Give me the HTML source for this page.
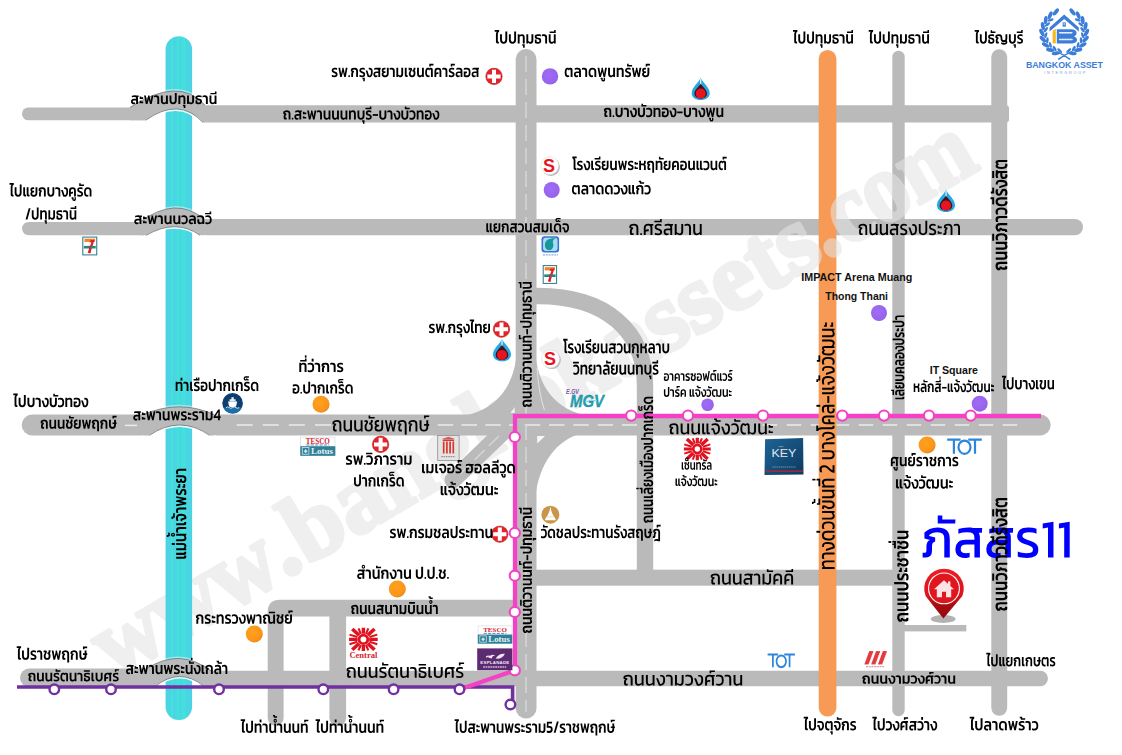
<!DOCTYPE html>
<html lang="th"><head><meta charset="utf-8"><title>แผนที่ ภัสสร11</title>
<style>
html,body{margin:0;padding:0;background:#fff}
svg{display:block}
text{font-family:"Liberation Sans",sans-serif}
.ser{font-family:"Liberation Serif",serif}
</style></head>
<body>
<svg width="1122" height="755" viewBox="0 0 1122 755">
<defs>
<linearGradient id="riv" x1="0" x2="1" y1="0" y2="0">
<stop offset="0" stop-color="#47d0e0"/><stop offset=".05" stop-color="#4bd4e3"/><stop offset=".19" stop-color="#4bd4e3"/><stop offset=".22" stop-color="#41e2da"/><stop offset=".27" stop-color="#41e2da"/><stop offset=".30" stop-color="#4bd4e3"/>
<stop offset=".40" stop-color="#4bd4e3"/><stop offset=".43" stop-color="#41e2da"/><stop offset=".50" stop-color="#41e2da"/><stop offset=".53" stop-color="#4bd4e3"/>
<stop offset=".59" stop-color="#4bd4e3"/><stop offset=".62" stop-color="#41e2da"/><stop offset=".73" stop-color="#41e2da"/><stop offset=".76" stop-color="#4bd4e3"/><stop offset=".95" stop-color="#4bd4e3"/><stop offset="1" stop-color="#47d0e0"/>
</linearGradient>
<radialGradient id="og" cx=".4" cy=".38" r=".7"><stop offset="0" stop-color="#ffa21f"/><stop offset=".75" stop-color="#fb9418"/><stop offset="1" stop-color="#d97d1c"/></radialGradient>
<radialGradient id="pg" cx=".42" cy=".4" r=".7"><stop offset="0" stop-color="#9f6cf3"/><stop offset=".8" stop-color="#9763ee"/><stop offset="1" stop-color="#7d55c4"/></radialGradient>
<linearGradient id="pin" x1="0" x2="0" y1="0" y2="1"><stop offset="0" stop-color="#ee1c24"/><stop offset=".55" stop-color="#dc141c"/><stop offset=".72" stop-color="#a80d12"/><stop offset="1" stop-color="#8e0a0e"/></linearGradient>
<linearGradient id="key" x1="0" x2="1" y1="0" y2="1"><stop offset="0" stop-color="#1e6496"/><stop offset="1" stop-color="#0d3a60"/></linearGradient>
<g id="hosp"><circle r="8.3" fill="#e5232b"/><circle r="8.3" fill="none" stroke="#9a2a22" stroke-width=".7" opacity=".6"/><path d="M-2,-6.6h4v4.6h4.6v4h-4.6v4.6h-4v-4.6h-4.6v-4h4.6z" fill="#fff"/></g>
<g id="ptt"><path d="M0,-11 C2.5,-6 9,-1.5 9,4.2 C9,8.6 5,11 0,11 C-5,11 -9,8.6 -9,4.2 C-9,-1.5 -2.5,-6 0,-11Z" fill="#27a7e1"/><path d="M0,-10 V-3" stroke="#fff" stroke-width="1.1"/><path d="M0,-5.5 C1.6,-2.5 6.3,0.5 6.3,4.6 C6.3,7.8 3.5,9.6 0,9.6 C-3.5,9.6 -6.3,7.8 -6.3,4.6 C-6.3,0.5 -1.6,-2.5 0,-5.5Z" fill="#3a1420"/><circle cy="4.6" r="5" fill="#e8141f"/></g>
<g id="slogo"><circle cx="1.2" cy="1.2" r="9" fill="#b5b5b5"/><circle r="9" fill="#fff"/><circle r="9" fill="none" stroke="#ddd" stroke-width=".6"/><text x="-.6" y="6.2" text-anchor="middle" font-size="18" font-weight="700" fill="#e8141f">S</text></g>
<g id="sev"><rect x=".4" y=".4" width="13.4" height="17.8" fill="#fff" stroke="#27788a" stroke-width="1"/><rect x="2" y="2" width="10.2" height="3.2" fill="#f08223"/><path d="M8.2,3.2 L11.6,3.2 L7.6,16.2 L5,16.2 L8.6,5.6 L6.6,5.6Z" fill="#e0202a"/><rect x="1.4" y="9.2" width="11.4" height="2.6" fill="#1f8a76"/><rect x="6.3" y="9.2" width="1.5" height="7.4" fill="#e0202a"/></g>
<g id="tesco"><rect x=".3" y=".3" width="34.4" height="18.4" fill="#fff" stroke="#cfd6da" stroke-width=".6"/><rect x="0" y="9.4" width="35" height="9.6" fill="#2f8097"/><text class="ser" x="17.5" y="7.2" text-anchor="middle" font-size="7.4" font-weight="700" fill="#d8232a" textLength="24" lengthAdjust="spacingAndGlyphs">TESCO</text><path d="M6,8.2h23" stroke="#3b5fa8" stroke-width=".8" stroke-dasharray="3.2 1.2"/><rect x="2" y="10.8" width="6.6" height="6.6" fill="none" stroke="#cfe3ea" stroke-width=".8"/><path d="M3.4,14.4 l2,-2.2 l2,2.2 l-2,2z" fill="#cfe3ea"/><text class="ser" x="21.6" y="17.2" text-anchor="middle" font-size="8.4" font-weight="700" fill="#e6f1f4" textLength="22" lengthAdjust="spacingAndGlyphs">Lotus</text></g>
<g id="central"><g fill="none" stroke="#e1121f" stroke-width="3.2"><path d="M0,-5.4V-11.2M0,5.4V11.2M-5.4,0H-13.4M5.4,0H13.4"/><path d="M-4,-4L-10.4,-10M4,-4L10.4,-10M-4,4L-10.4,10M4,4L10.4,10" stroke-width="3.4"/></g><g fill="none" stroke="#e1121f" stroke-width="2"><path d="M-2.4,-5.4L-4.6,-10.6M2.4,-5.4L4.6,-10.6M-2.4,5.4L-4.6,10.6M2.4,5.4L4.6,10.6M-5.6,-2.2L-13,-4.6M-5.6,2.2L-13,4.6M5.6,-2.2L13,-4.6M5.6,2.2L13,4.6"/></g><circle r="5.4" fill="#e1121f"/><circle r="2.7" fill="#fff"/></g>
<g id="tot" fill="none" stroke="#2c86dc" stroke-width="2.2"><path d="M0,1H13.4M6.7,1V15.2M21,1H34.6M27.8,1V15.2"/><ellipse cx="17.3" cy="8.6" rx="6" ry="6.6"/></g>

<path id="m489" d="M189 0Q124 0 98 27Q71 54 71 112V542Q71 595 89 632Q107 668 137 689H-18V794H300V696Q250 678 228 640Q206 601 206 536V147Q206 105 247 105H281V0Z"/><path id="m459" d="M314 -10Q195 -10 126 46Q57 103 57 217V540H192V215Q192 95 314 95Q436 95 436 215V700H571V217Q571 103 502 46Q433 -10 314 -10Z"/><path id="m455" d="M57 0V540H181L187 487Q223 516 270 533Q318 550 374 550Q459 550 508 498Q556 446 556 355V0H421V347Q421 399 396 422Q372 445 324 445Q287 445 250 429Q214 413 192 389V0Z"/><path id="m753" d="M-177 -253V-137H-237L-232 -51H-63V-253Z"/><path id="m465" d="M369 -10Q313 -10 268 7Q223 24 187 53L181 0H57V540H192V151Q214 127 250 111Q287 95 324 95Q372 95 396 118Q421 142 421 197V540H556V189Q556 95 506 42Q456 -10 369 -10Z"/><path id="m456" d="M274 -10Q206 -10 146 2Q87 15 47 32V233H171V110Q189 103 215 99Q241 95 266 95Q319 95 348 110Q376 126 376 167Q376 196 356 212Q335 227 298 237Q261 247 210 259Q163 271 124 286Q84 301 60 328Q37 354 37 400Q37 472 98 511Q160 550 278 550Q337 550 391 542Q445 535 474 525V417Q441 431 392 438Q343 445 296 445Q266 445 236 442Q205 439 185 430Q165 422 165 404Q165 383 188 372Q210 361 248 354Q286 346 330 333Q383 319 421 301Q459 283 480 252Q501 221 501 167Q501 81 440 36Q380 -10 274 -10Z"/><path id="m483" d="M248 0V332Q248 386 227 416Q206 445 143 445Q110 445 73 438Q36 430 7 419V518Q37 532 81 541Q125 550 169 550Q283 550 333 502Q383 453 383 351V0Z"/><path id="m457" d="M244 -10Q157 -10 107 42Q57 95 57 189V540H192V197Q192 142 216 118Q241 95 289 95Q327 95 363 111Q399 127 421 151V540H556V0H432L426 53Q390 24 345 7Q300 -10 244 -10Z"/><path id="m740" d="M-499 614 -492 706H-172V787H-62V614Z"/><path id="m719" d="M-319 614V773H-209V706H40L35 614Z"/><path id="m441" d="M670 -71Q624 -71 566 -62Q509 -53 463 -28V76Q493 61 530 52Q567 42 603 38Q639 33 665 33Q727 33 765 46Q803 59 803 82Q803 100 787 110Q766 98 734 89Q703 80 662 80Q543 80 479 136Q415 193 415 307V329Q415 392 386 418Q358 445 296 445Q251 445 214 432Q176 419 153 399V385L264 355V273Q224 263 210 240Q197 218 197 171V142Q197 122 206 114Q215 105 234 105H287V0H165Q119 0 90 30Q62 60 62 106V172Q62 218 78 254Q93 289 139 303L37 330V459Q78 494 146 522Q215 550 303 550Q379 550 433 529Q487 508 516 459Q545 410 545 326V305Q545 244 573 214Q601 185 662 185Q723 185 751 214Q779 244 779 305V540H914V307Q914 220 874 167Q892 151 904 126Q916 100 916 71Q916 3 850 -34Q784 -71 670 -71Z"/><path id="m458" d="M314 -10Q195 -10 126 46Q57 103 57 217V540H192V215Q192 95 314 95Q436 95 436 215V540H571V217Q571 103 502 46Q433 -10 314 -10Z"/><path id="m467" d="M239 -10Q183 -10 132 -2Q80 6 48 19V128Q86 112 132 104Q177 95 214 95Q279 95 308 105Q338 115 338 146Q338 170 322 183Q307 196 275 206Q243 217 193 234Q120 260 78 292Q37 325 37 389Q37 461 93 506Q149 550 262 550Q309 550 356 543Q403 536 433 526V418Q400 432 358 438Q315 445 281 445Q234 445 200 434Q165 424 165 392Q165 372 182 360Q200 348 232 338Q265 328 310 312Q366 293 400 272Q435 251 450 221Q466 191 466 146Q466 67 406 28Q345 -10 239 -10Z"/><path id="m462" d="M153 0 27 540H157L228 193L310 454V540H404L500 193L569 540H698L572 0H455L366 309L270 0Z"/><path id="m542" d="M37 0V101H147V0Z"/><path id="m427" d="M62 0V172Q62 218 78 254Q93 289 139 303L37 330V459Q78 494 146 522Q215 550 303 550Q384 550 442 529Q499 508 530 459Q560 410 560 326V0H425V329Q425 392 396 418Q366 445 296 445Q251 445 214 432Q176 419 153 399V385L264 355V273Q224 263 210 240Q197 218 197 171V0Z"/><path id="m433" d="M260 -10Q233 -10 202 -6Q172 -2 149 5L-3 375H128L247 86Q322 86 356 136Q389 187 389 287Q389 347 378 381Q366 415 340 430Q314 444 268 444H227V540H287Q406 540 462 478Q517 415 517 287Q517 182 484 116Q451 51 394 20Q336 -10 260 -10Z"/><path id="m476" d="M228 -10Q177 -10 134 6Q91 23 66 60Q40 98 40 160Q40 241 95 284Q150 328 253 328H406V354Q406 404 378 424Q350 445 279 445Q230 445 186 438Q143 432 100 418V519Q141 532 195 541Q249 550 301 550Q328 550 352 548Q376 545 397 540H585L578 437H517Q529 418 535 393Q541 368 541 340V0H406V229H261Q218 229 193 214Q168 199 168 160Q168 123 190 109Q212 95 264 95Q283 95 302 97Q320 99 333 103V4Q314 -2 286 -6Q259 -10 228 -10Z"/><path id="m466" d="M289 -10Q218 -10 159 6Q100 22 65 60Q30 99 30 164Q30 199 46 230Q63 262 98 281Q69 294 50 322Q32 350 32 390Q32 469 82 510Q132 550 211 550Q242 550 264 546Q286 543 304 536V437Q275 445 235 445Q198 445 179 432Q160 420 160 390Q160 357 181 344Q202 332 244 332H300L305 233H243Q158 233 158 164Q158 130 188 112Q219 95 283 95Q348 95 379 122Q410 149 410 200V540H545V212Q545 95 478 42Q412 -10 289 -10Z"/><path id="m485" d="M178 0Q113 0 86 27Q60 54 60 112V540H195V147Q195 105 236 105H270V0Z"/><path id="m437" d="M290 -10Q169 -10 108 42Q47 94 47 186V211Q47 246 64 278Q81 309 104 336Q126 364 143 386Q160 408 160 424Q160 443 144 443Q137 443 130 440Q124 437 119 432V391H34V540H123V512Q138 524 157 532Q176 540 204 540Q284 540 284 458Q284 421 268 390Q253 360 233 332Q213 305 198 276Q182 247 182 213V191Q182 95 290 95Q400 95 400 195V258Q400 296 387 312Q374 328 341 328H313L319 422H337Q370 422 385 439Q400 456 400 493V550H535V496Q535 450 521 422Q507 393 466 375Q508 356 522 326Q535 297 535 253V201Q535 104 470 47Q405 -10 290 -10Z"/><path id="m453" d="M263 -10Q198 -10 147 18Q96 46 66 106Q37 165 37 259Q37 402 88 476Q138 550 224 550Q267 550 291 536Q315 522 331 499Q351 522 386 536Q422 550 459 550Q530 550 564 507Q597 464 597 394V0H462V373Q462 408 452 426Q443 445 416 445Q398 445 384 434Q369 422 363 399H298Q288 422 277 434Q266 445 245 445Q198 445 182 394Q165 342 165 259Q165 168 197 132Q229 95 287 95Q306 95 324 97Q343 99 356 103V4Q338 -3 316 -6Q294 -10 263 -10Z"/><path id="m732" d="M-319 614V771H-13L-17 679H-209V614Z"/><path id="m430" d="M57 0V335Q57 433 118 492Q178 550 312 550Q446 550 506 492Q566 433 566 335V0H431V345Q431 395 400 420Q368 445 312 445Q192 445 192 345V248Q211 262 234 271Q258 280 286 280H351L355 173H283Q255 173 233 166Q211 158 192 144V0Z"/><path id="m470" d="M228 -10Q177 -10 134 6Q91 23 66 60Q40 98 40 160Q40 241 95 284Q150 328 253 328H406V354Q406 404 378 424Q350 445 279 445Q230 445 186 438Q143 432 100 418V519Q141 532 195 541Q249 550 301 550Q422 550 482 499Q541 448 541 340V0H406V229H261Q218 229 193 214Q168 199 168 160Q168 123 190 109Q212 95 264 95Q283 95 302 97Q320 99 333 103V4Q314 -2 286 -6Q259 -10 228 -10Z"/><path id="m480" d="M260 -10Q193 -10 135 2Q77 15 37 32V316H266L272 217H165V108Q184 102 210 98Q237 95 261 95Q343 95 376 134Q409 173 409 268Q409 336 392 374Q374 413 334 429Q295 445 227 445Q183 445 136 438Q88 432 44 418V519Q89 534 147 542Q205 550 260 550Q406 550 472 478Q537 405 537 268Q537 134 472 62Q406 -10 260 -10Z"/><path id="m452" d="M263 -10Q198 -10 147 18Q96 46 66 106Q37 165 37 259Q37 397 108 474Q180 550 319 550Q416 550 476 518Q536 485 564 434Q591 383 591 326V0H456V317Q456 355 444 384Q432 412 402 428Q371 445 317 445Q165 445 165 259Q165 168 197 132Q229 95 287 95Q306 95 324 97Q343 99 356 103V4Q338 -3 316 -6Q294 -10 263 -10Z"/><path id="m755" d="M-197 -264Q-258 -264 -293 -240Q-328 -216 -328 -179V-132H-383L-378 -51H-234V-147Q-234 -179 -197 -179Q-159 -179 -159 -147V-51H-63V-157Q-63 -200 -95 -232Q-127 -264 -197 -264Z"/><path id="m482" d="M37 322V470H151V421H290L286 322ZM37 54V202H151V153H290L286 54Z"/><path id="m454" d="M165 0Q119 0 90 30Q62 60 62 106V172Q62 218 78 254Q93 289 139 303L37 330V459Q78 494 146 522Q215 550 303 550Q384 550 442 529Q499 508 530 459Q560 410 560 326V0H425V329Q425 392 396 418Q366 445 296 445Q251 445 214 432Q176 419 153 399V385L264 355V273Q224 263 210 240Q197 218 197 171V142Q197 122 206 114Q215 105 234 105H287V0Z"/><path id="m567" d="M37 219V324H423V219Z"/><path id="m473" d="M193 -10Q96 -10 21 22V125Q52 112 88 104Q124 95 161 95Q255 95 296 134Q336 173 336 270Q336 367 296 406Q255 445 161 445Q124 445 88 437Q52 429 21 415V518Q96 550 193 550Q330 550 397 478Q464 407 464 270Q464 133 397 62Q330 -10 193 -10Z"/><path id="m487" d="M209 0Q144 0 118 27Q91 54 91 112V551Q91 612 66 645Q42 678 -8 695V794H319V689H162Q194 670 210 637Q226 604 226 555V147Q226 105 267 105H301V0Z"/><path id="m477" d="M57 0V540H192V376H326Q378 376 398 398Q417 421 417 467V540H552V472Q552 422 536 384Q519 345 475 328Q517 312 532 278Q548 245 548 201V0H413V186Q413 237 394 257Q374 277 323 277H192V0Z"/><path id="m468" d="M425 -160V329Q425 392 396 418Q366 445 296 445Q251 445 214 432Q176 419 153 399V385L264 355V273Q224 263 210 240Q197 218 197 171V142Q197 122 206 114Q215 105 234 105H287V0H165Q119 0 90 30Q62 60 62 106V172Q62 218 78 254Q93 289 139 303L37 330V459Q78 494 146 522Q215 550 303 550Q384 550 442 529Q499 508 530 459Q560 410 560 326V-160Z"/><path id="m486" d="M434 0Q369 0 342 27Q316 54 316 112V540H451V147Q451 105 492 105H526V0ZM178 0Q113 0 86 27Q60 54 60 112V540H195V147Q195 105 236 105H270V0Z"/><path id="m724" d="M-310 614V703H-388V795H-219V706H-5L-10 614Z"/><path id="m555" d="M37 0 271 662H409L175 0Z"/><path id="m435" d="M218 -10Q135 -10 89 37Q43 84 43 177V300H178V197Q178 146 200 120Q221 95 273 95Q314 95 345 110Q376 126 398 152V319Q398 391 360 418Q323 445 234 445Q207 445 172 441Q136 437 100 430Q65 424 37 415V515Q84 531 146 540Q207 550 269 550Q409 550 471 492Q533 434 533 318V0H409L403 54Q370 26 325 8Q280 -10 218 -10Z"/><path id="m735" d="M-362 612Q-423 612 -458 644Q-494 675 -494 733Q-494 789 -458 824Q-422 859 -355 859H-103L-109 784H-342Q-371 784 -387 772Q-403 761 -403 733Q-403 686 -353 686Q-327 686 -316 697Q-305 708 -305 726V744H-225V726Q-225 705 -214 697Q-204 689 -182 689H-121V614H-192Q-216 614 -237 622Q-258 629 -266 645Q-276 629 -306 620Q-336 612 -362 612Z"/><path id="m434" d="M273 -10Q251 -10 222 -6Q194 -1 177 5L101 208H27L33 304H186L265 93Q327 93 361 136Q395 178 395 275Q395 340 378 377Q362 414 322 430Q282 445 213 445Q173 445 128 438Q82 432 41 419V519Q82 532 136 541Q189 550 248 550Q396 550 460 479Q523 408 523 275Q523 182 488 118Q454 55 397 22Q340 -10 273 -10Z"/><path id="r454" d="M169 0Q124 0 98 28Q72 56 72 101V195Q72 239 89 272Q106 306 151 319L43 346V458Q83 493 148 522Q214 550 302 550Q421 550 485 500Q549 451 549 335V0H440V338Q440 407 408 434Q375 462 298 462Q248 462 205 448Q162 434 137 411V393L251 364V292Q212 282 196 260Q180 238 180 194V129Q180 106 190 96Q200 86 222 86H277V0Z"/><path id="r542" d="M43 0V85H135V0Z"/><path id="r474" d="M63 0V342Q63 440 122 495Q181 550 308 550Q334 550 358 548Q382 545 402 540H601L596 455H521Q539 431 545 403Q551 375 551 342V0H442V352Q442 409 407 436Q372 462 308 462Q241 462 206 436Q172 409 172 352V241Q216 277 277 277H342L346 190H274Q213 190 172 156V0Z"/><path id="r467" d="M240 -10Q187 -10 138 -3Q88 4 56 17V108Q94 93 138 85Q183 77 220 77Q289 77 322 90Q355 102 355 142Q355 171 338 186Q321 201 288 212Q255 224 206 240Q160 256 123 275Q86 294 64 323Q43 352 43 396Q43 467 97 508Q151 550 260 550Q306 550 351 543Q396 536 425 526V436Q392 449 352 456Q311 462 276 462Q218 462 183 450Q148 437 148 399Q148 374 166 360Q184 345 218 334Q251 322 298 306Q351 289 387 268Q423 248 442 218Q460 189 460 142Q460 63 400 26Q341 -10 240 -10Z"/><path id="r740" d="M-481 622 -476 698H-154V781H-64V622Z"/><path id="r476" d="M230 -10Q179 -10 137 6Q95 23 70 60Q46 96 46 155Q46 234 99 278Q152 322 256 322H421V356Q421 415 391 438Q361 462 281 462Q235 462 191 456Q147 450 105 436V520Q144 533 196 542Q248 550 300 550Q326 550 350 548Q373 545 393 540H574L568 455H505Q519 433 524 406Q529 378 529 346V0H421V238H262Q207 238 178 220Q150 201 150 155Q150 111 176 94Q201 77 259 77Q277 77 296 79Q314 81 327 85V2Q309 -3 284 -6Q259 -10 230 -10Z"/><path id="r465" d="M357 -10Q296 -10 250 9Q205 28 168 59L162 0H63V540H172V142Q198 114 237 96Q276 77 321 77Q377 77 405 104Q433 130 433 191V540H541V186Q541 92 492 41Q443 -10 357 -10Z"/><path id="r483" d="M267 0V340Q267 381 258 408Q249 435 224 448Q199 462 150 462Q118 462 80 455Q43 448 13 436V520Q43 533 86 542Q128 550 171 550Q279 550 328 503Q376 456 376 354V0Z"/><path id="r457" d="M247 -10Q160 -10 112 41Q63 92 63 186V540H172V191Q172 130 199 104Q226 77 283 77Q327 77 367 96Q407 114 433 142V540H541V0H442L437 59Q400 28 354 9Q307 -10 247 -10Z"/><path id="r433" d="M275 -10Q252 -10 224 -7Q196 -4 175 3L23 373H129L252 73Q338 69 377 122Q416 176 416 287Q416 352 404 390Q392 427 364 442Q335 458 285 458H247V540H299Q415 540 468 478Q521 416 521 288Q521 182 489 116Q457 51 402 20Q346 -10 275 -10Z"/><path id="r459" d="M310 -10Q194 -10 128 45Q63 100 63 210V540H172V206Q172 139 208 108Q243 77 310 77Q378 77 414 108Q449 139 449 206V700H557V210Q557 100 492 45Q427 -10 310 -10Z"/><path id="r482" d="M43 331V461H136V412H283L279 331ZM43 59V189H136V139H283L279 59Z"/><path id="r464" d="M48 0V86H85Q106 86 114 96Q123 105 123 128V195Q123 239 137 271Q151 303 194 319L84 346V458Q123 493 189 522Q255 550 342 550Q458 550 520 500Q583 449 583 335V0H475V338Q475 407 444 434Q413 462 339 462Q288 462 245 448Q202 434 178 411V393L295 364V292Q257 281 245 260Q233 239 233 194V122Q233 58 202 29Q172 0 115 0Z"/><path id="m738" d="M-499 614 -492 706H-62V614Z"/><path id="m463" d="M153 0 27 540H157L228 193L310 454V540H404L500 193L595 700H724L572 0H455L366 309L270 0Z"/><path id="m450" d="M263 -10Q198 -10 147 18Q96 46 66 106Q37 165 37 259Q37 402 84 476Q132 550 214 550Q257 550 281 536Q305 522 321 499Q341 522 374 536Q407 550 444 550Q515 550 546 507Q577 464 577 394V151Q599 127 633 111Q667 95 704 95Q752 95 774 118Q796 142 796 197V540H931V189Q931 95 884 42Q836 -10 749 -10Q693 -10 650 7Q608 24 572 53L566 0H447V373Q447 408 440 426Q433 445 406 445Q388 445 374 434Q359 422 353 399H288Q278 422 267 434Q256 445 235 445Q192 445 178 394Q165 342 165 259Q165 168 197 132Q229 95 287 95Q306 95 324 97Q343 99 356 103V4Q338 -3 316 -6Q294 -10 263 -10Z"/><path id="m722" d="M-177 830V970H-67V830Z"/><path id="m428" d="M288 -10Q167 -10 106 46Q45 102 45 199V233Q45 267 58 294Q71 321 88 342Q104 363 117 381Q130 399 130 415Q130 430 123 435Q116 440 98 440H33L44 540H184Q267 540 267 463Q267 429 254 402Q241 374 224 349Q206 324 193 296Q180 269 180 234V191Q180 95 288 95Q398 95 398 195V540H533V201Q533 104 468 47Q403 -10 288 -10Z"/><path id="m721" d="M-201 614V779H-66V614Z"/><path id="m744" d="M-499 614 -492 706H-309V787H-214V706H-157V787H-62V614Z"/><path id="m436" d="M290 -10Q169 -10 108 46Q47 102 47 199V233Q47 267 60 294Q73 321 90 342Q106 363 119 381Q132 399 132 415Q132 430 125 435Q118 440 100 440H35L46 540H186Q269 540 269 463Q269 429 256 402Q243 374 226 349Q208 324 195 296Q182 269 182 234V191Q182 95 290 95Q400 95 400 195V258Q400 296 387 312Q374 328 341 328H313L319 422H337Q370 422 385 439Q400 456 400 493V550H535V496Q535 450 521 422Q507 393 466 375Q508 356 522 326Q535 297 535 253V201Q535 104 470 47Q405 -10 290 -10Z"/><path id="m475" d="M314 -10Q195 -10 126 46Q57 103 57 217V540H192V215Q192 95 314 95Q436 95 436 215V276H321V375H436V540H571V375H628L619 276H571V217Q571 103 502 46Q433 -10 314 -10Z"/><path id="m496" d="M329 0V135H17V227L346 644H464V244H527V135H464V0ZM146 239H352V495Z"/><path id="r436" d="M285 -10Q171 -10 112 43Q54 96 54 192V245Q54 277 68 304Q81 331 98 354Q116 376 130 396Q143 415 143 432Q143 448 136 453Q129 458 111 458H42L51 540H177Q253 540 253 467Q253 433 240 406Q226 379 208 354Q189 329 176 302Q162 276 162 244V183Q162 128 194 102Q227 77 285 77Q344 77 376 103Q409 129 409 186V252Q409 299 394 318Q379 336 338 336H310L315 415H335Q377 415 393 436Q409 456 409 499V550H518V501Q518 454 504 424Q490 393 446 376Q492 357 505 326Q518 295 518 249V193Q518 97 456 44Q394 -10 285 -10Z"/><path id="r719" d="M-301 622V768H-211V698H48L43 622Z"/><path id="r466" d="M289 -10Q217 -10 161 7Q105 24 72 61Q40 98 40 159Q40 200 59 232Q78 263 115 281Q84 293 64 322Q43 351 43 394Q43 471 90 510Q138 550 212 550Q241 550 262 546Q283 543 300 537V454Q271 462 232 462Q192 462 170 446Q148 430 148 394Q148 356 173 340Q198 323 242 323H299L304 242H240Q145 242 145 159Q145 118 179 98Q213 77 284 77Q425 77 425 192V540H533V205Q533 96 472 43Q411 -10 289 -10Z"/><path id="r462" d="M160 0 35 540H142L222 154L320 463V540H398L507 154L585 540H691L567 0H467L367 344L259 0Z"/><path id="r468" d="M440 -160V338Q440 407 408 434Q375 462 298 462Q248 462 205 448Q162 434 137 411V393L251 364V292Q212 282 196 260Q180 238 180 194V129Q180 106 190 96Q200 86 222 86H277V0H169Q124 0 98 28Q72 56 72 101V195Q72 239 89 272Q106 306 151 319L43 346V458Q83 493 148 522Q214 550 302 550Q421 550 485 500Q549 451 549 335V-160Z"/><path id="r427" d="M72 0V195Q72 239 89 272Q106 306 151 319L43 346V458Q83 493 148 522Q214 550 302 550Q421 550 485 500Q549 451 549 335V0H440V338Q440 407 408 434Q375 462 298 462Q248 462 205 448Q162 434 137 411V393L251 364V292Q212 282 196 260Q180 238 180 194V0Z"/><path id="r475" d="M310 -10Q193 -10 128 45Q63 100 63 210V540H171V206Q171 139 206 108Q242 77 310 77Q378 77 413 108Q448 139 448 206V277H319V360H448V540H557V360H616L608 277H557V210Q557 100 492 45Q426 -10 310 -10Z"/><path id="r732" d="M-301 622V768H-7L-11 692H-211V622Z"/><path id="r486" d="M411 0Q356 0 331 27Q306 54 306 104V540H414V131Q414 86 458 86H499V0ZM168 0Q114 0 88 27Q63 54 63 104V540H172V131Q172 86 216 86H256V0Z"/><path id="r434" d="M278 -10Q259 -10 234 -6Q208 -3 192 3L112 216H43L48 298H181L264 76Q309 74 344 93Q380 112 400 156Q421 201 421 275Q421 345 402 386Q384 427 342 444Q299 462 226 462Q186 462 141 456Q96 450 55 436V520Q95 533 146 542Q198 550 255 550Q398 550 462 479Q526 408 526 275Q526 182 492 118Q457 55 401 22Q345 -10 278 -10Z"/><path id="r724" d="M-293 622V714H-372V789H-218V698H-2L-6 622Z"/><path id="r473" d="M197 -10Q104 -10 35 20V106Q65 93 100 85Q136 77 171 77Q239 77 279 96Q319 115 336 158Q354 200 354 270Q354 374 312 418Q269 462 170 462Q134 462 100 454Q66 447 35 433V520Q69 534 108 542Q148 550 194 550Q328 550 394 478Q459 407 459 270Q459 134 396 62Q334 -10 197 -10Z"/><path id="r450" d="M264 -10Q201 -10 151 18Q101 46 72 106Q43 167 43 262Q43 402 88 476Q134 550 214 550Q255 550 279 536Q303 521 321 498Q342 521 374 536Q407 550 442 550Q507 550 536 512Q566 473 566 405V142Q592 114 630 96Q667 77 710 77Q765 77 790 104Q816 130 816 191V540H925V186Q925 92 878 41Q832 -10 746 -10Q686 -10 642 9Q599 28 562 59L557 0H461V389Q461 427 452 444Q443 462 411 462Q391 462 374 451Q358 440 350 416H290Q278 440 266 451Q253 462 229 462Q180 462 164 407Q148 352 148 262Q148 159 183 118Q218 77 283 77Q302 77 320 79Q339 81 352 85V2Q335 -4 314 -7Q293 -10 264 -10Z"/><path id="m464" d="M47 0V105H80Q100 105 107 113Q114 121 114 141V172Q114 218 127 252Q140 286 186 303L84 330V459Q125 494 194 522Q262 550 350 550Q464 550 530 499Q595 448 595 326V0H460V329Q460 392 432 418Q405 445 343 445Q298 445 260 432Q223 419 200 399V385L311 355V273Q273 261 262 240Q251 218 251 171V134Q251 63 217 32Q183 0 119 0Z"/><path id="m481" d="M260 -10Q193 -10 135 2Q77 15 37 32V316H266L272 217H165V108Q184 102 210 98Q237 95 261 95Q343 95 376 134Q409 173 409 268Q409 336 392 374Q374 413 334 429Q295 445 227 445Q183 445 136 438Q88 432 44 418V519Q89 534 147 542Q205 550 260 550Q287 550 310 548Q334 545 356 540H577L570 437H495Q516 406 526 362Q537 319 537 268Q537 134 472 62Q406 -10 260 -10Z"/><path id="m474" d="M57 0V335Q57 433 118 492Q178 550 312 550Q339 550 362 548Q386 545 407 540H617L610 437H539Q553 419 560 392Q566 364 566 335V0H431V345Q431 395 400 420Q368 445 312 445Q192 445 192 345V248Q211 262 234 271Q258 280 286 280H351L355 173H283Q255 173 233 166Q211 158 192 144V0Z"/><path id="m443" d="M164 -197V-94Q199 -77 241 -68Q283 -59 334 -59Q372 -59 406 -66Q439 -73 460 -84V329Q460 392 432 418Q405 445 343 445Q298 445 260 432Q223 419 200 399V385L311 355V273Q273 261 262 240Q251 218 251 171V134Q251 63 217 32Q183 0 119 0H47V105H80Q100 105 107 113Q114 121 114 141V172Q114 218 127 252Q140 286 186 303L84 330V459Q125 494 194 522Q262 550 350 550Q464 550 530 499Q595 448 595 326V-194H460Q406 -164 318 -164Q279 -164 236 -174Q193 -183 164 -197Z"/><path id="m746" d="M-126 597Q-176 597 -212 630Q-247 662 -247 712Q-247 762 -212 795Q-176 828 -126 828Q-76 828 -41 795Q-6 762 -6 712Q-6 662 -41 630Q-76 597 -126 597ZM-126 668Q-108 668 -95 682Q-82 695 -82 712Q-82 730 -95 744Q-108 757 -126 757Q-144 757 -158 744Q-171 730 -171 712Q-171 695 -158 682Q-144 668 -126 668Z"/><path id="m725" d="M-227 835V912H-290V997H-142V920H12L7 835Z"/><path id="m451" d="M597 -10Q510 -10 462 42Q415 95 415 189V329Q415 392 386 418Q358 445 296 445Q251 445 214 432Q176 419 153 399V385L264 355V273Q224 263 210 240Q197 218 197 171V142Q197 122 206 114Q215 105 234 105H287V0H165Q119 0 90 30Q62 60 62 106V172Q62 218 78 254Q93 289 139 303L37 330V459Q78 494 146 522Q215 550 303 550Q379 550 433 529Q487 508 516 459Q545 410 545 326V197Q545 142 570 118Q594 95 642 95Q680 95 714 111Q747 127 769 151V540H904V0H780L774 53Q740 22 696 6Q653 -10 597 -10Z"/><path id="r453" d="M264 -10Q201 -10 151 18Q101 46 72 106Q43 167 43 262Q43 402 90 476Q137 550 221 550Q262 550 286 536Q311 521 329 498Q350 521 384 536Q418 550 453 550Q518 550 550 512Q582 473 582 405V0H473V389Q473 427 462 444Q452 462 420 462Q400 462 383 451Q366 440 358 416H298Q286 440 273 451Q260 462 236 462Q184 462 166 407Q148 352 148 262Q148 159 183 118Q218 77 283 77Q302 77 320 79Q339 81 352 85V2Q335 -4 314 -7Q293 -10 264 -10Z"/><path id="r456" d="M271 -10Q206 -10 148 2Q91 14 53 30V233H153V95Q202 77 264 77Q323 77 355 94Q387 112 387 161Q387 198 368 216Q349 235 312 246Q275 256 221 268Q175 279 134 293Q94 307 68 334Q43 361 43 408Q43 479 104 514Q164 550 275 550Q330 550 382 542Q435 535 464 524V434Q431 447 383 454Q335 462 290 462Q254 462 221 458Q188 455 167 444Q146 434 146 411Q146 385 168 372Q191 360 230 352Q269 344 316 331Q368 317 408 300Q447 282 469 250Q491 219 491 161Q491 76 432 33Q372 -10 271 -10Z"/><path id="r738" d="M-481 622 -476 698H-64V622Z"/><path id="r485" d="M170 0Q115 0 90 27Q65 54 65 104V540H173V131Q173 86 217 86H263V0Z"/><path id="r458" d="M310 -10Q194 -10 128 45Q63 100 63 210V540H172V206Q172 139 208 108Q243 77 310 77Q378 77 414 108Q449 139 449 206V540H557V210Q557 100 492 45Q427 -10 310 -10Z"/><path id="r430" d="M63 0V342Q63 440 122 495Q181 550 308 550Q436 550 494 495Q551 440 551 342V0H442V352Q442 409 407 436Q372 462 308 462Q241 462 206 436Q172 409 172 352V241Q216 277 277 277H342L346 190H274Q213 190 172 156V0Z"/><path id="m497" d="M227 -10Q198 -10 164 -6Q129 -3 96 4Q64 11 40 21V138Q75 123 122 114Q170 106 208 106Q276 106 310 128Q343 150 343 203Q343 250 320 272Q298 294 231 294H37V370L54 644H437L427 540H169L160 398H257Q374 398 427 347Q480 296 480 198Q480 103 416 46Q353 -10 227 -10Z"/><path id="r493" d="M147 0V548L43 530V621L255 654V0Z"/><path id="r455" d="M63 0V540H162L168 481Q205 513 252 532Q299 550 360 550Q446 550 494 499Q541 448 541 356V0H433V351Q433 410 405 436Q377 462 321 462Q276 462 237 444Q198 425 172 397V0Z"/><path id="r452" d="M264 -10Q201 -10 151 18Q101 46 72 106Q43 167 43 262Q43 397 112 474Q181 550 319 550Q412 550 469 518Q526 487 552 437Q579 387 579 330V0H470V325Q470 365 456 396Q442 427 408 444Q375 462 317 462Q229 462 188 411Q148 360 148 262Q148 159 183 118Q218 77 283 77Q302 77 320 79Q339 81 352 85V2Q335 -4 314 -7Q293 -10 264 -10Z"/><path id="r721" d="M-173 623V787H-64V623Z"/><path id="r428" d="M285 -10Q171 -10 112 43Q53 96 53 192V245Q53 277 66 304Q80 331 98 354Q115 376 128 396Q142 415 142 432Q142 448 135 453Q128 458 110 458H41L50 540H176Q252 540 252 467Q252 433 238 406Q225 379 206 354Q188 329 174 302Q161 276 161 244V183Q161 128 194 102Q227 77 285 77Q344 77 376 103Q408 129 408 186V540H517V193Q517 97 456 44Q394 -10 285 -10Z"/><path id="r725" d="M-216 833V911H-278V981H-145V903H9L5 833Z"/><path id="r722" d="M-154 827V966H-64V827Z"/><path id="r494" d="M43 0V54Q69 115 116 164Q162 213 215 259Q255 294 282 318Q308 343 323 363Q338 383 344 404Q350 426 350 455Q350 507 320 534Q290 561 220 561Q182 561 142 553Q103 545 67 531V627Q102 639 150 646Q198 654 241 654Q349 654 404 601Q459 548 459 456Q459 410 443 374Q427 339 399 308Q371 276 334 243Q288 203 248 166Q207 128 182 84H466V0Z"/><path id="r487" d="M206 0Q142 0 122 34Q101 69 101 127V562Q101 627 76 660Q51 692 -2 711V794H305V708H135Q175 686 192 650Q209 615 209 552V131Q209 105 218 96Q226 86 253 86H299V0Z"/><path id="r470" d="M230 -10Q179 -10 138 6Q96 23 71 60Q46 96 46 155Q46 234 100 278Q153 322 256 322H421V356Q421 415 392 438Q362 462 282 462Q235 462 192 456Q148 450 106 436V520Q145 533 196 542Q248 550 300 550Q418 550 474 500Q530 451 530 346V0H421V238H263Q207 238 178 220Q150 201 150 155Q150 111 176 94Q201 77 259 77Q299 77 328 85V2Q309 -3 284 -6Q259 -10 230 -10Z"/><path id="r567" d="M43 227V312H425V227Z"/>
</defs>
<rect width="1122" height="755" fill="#fff"/>
<g transform="translate(102.8,686.3) rotate(-30.55)" opacity=".58"><g class="ser" font-size="97.9" font-weight="700" fill="#e4e4e4" stroke="#e4e4e4" stroke-width="4" stroke-linejoin="round"><text class="ser" x="13.4" y="0" textLength="198.7" lengthAdjust="spacingAndGlyphs">www</text><text class="ser" x="212.1" y="0">.bangkokass</text></g></g>
<g id="roads">
<rect x="22" y="107.4" width="128.0" height="12.9" rx="6.4" ry="6.4" fill="#bababa"/>
<rect x="200" y="105.2" width="809.0" height="17.3" rx="3" ry="3" fill="#bababa"/>
<rect x="22" y="221.9" width="128.0" height="13.4" rx="6.7" ry="6.7" fill="#bababa"/>
<rect x="198" y="219" width="885.0" height="16.3" rx="8.1" ry="8.1" fill="#bababa"/>
<rect x="21.7" y="414.6" width="130.3" height="20.8" rx="10.4" ry="10.4" fill="#bababa"/>
<rect x="207" y="414.6" width="843.7" height="20.8" rx="10.4" ry="10.4" fill="#bababa"/>
<rect x="530" y="569.7" width="368.0" height="16.0" rx="0" ry="0" fill="#bababa"/>
<rect x="20" y="668.5" width="136.0" height="18.5" rx="9.2" ry="9.2" fill="#bababa"/>
<rect x="202" y="670.8" width="846.0" height="15.5" rx="7.7" ry="7.7" fill="#bababa"/>
<path d="M267.7,718 V612 Q267.9,599.8 280,599.8 H520 V616.4 H283.6 V718 A7.8,7.8 0 0 1 267.7,718Z" fill="#bababa"/>
<path d="M329.4,608 V718 A8.35,8.35 0 0 0 346.1,718 V608Z" fill="#bababa"/>
<rect x="900" y="625" width="66.3" height="6.4" rx="0" ry="0" fill="#bababa"/>
<rect x="515.7" y="49" width="20.8" height="669.5" rx="10.3" ry="10.3" fill="#bababa"/>
<rect x="892.3" y="50.7" width="12.4" height="665.6" rx="6.2" ry="6.2" fill="#bababa"/>
<rect x="991.3" y="49.3" width="15.9" height="666.4" rx="7.9" ry="7.9" fill="#bababa"/>
<path d="M528,296 H538 C606,296 645,331 645,386 V578" fill="none" stroke="#bababa" stroke-width="16.4"/>
<path d="M517,350 C515,386 496,411 461,416 L517,416Z" fill="#bababa"/>
<path d="M535,350 C537,386 556,411 590,416 L535,416Z" fill="#bababa"/>
<path d="M535,502 C537,470 552,443 578,434.5 L535,434.5Z" fill="#bababa"/>
<path d="M506,429 L453,480" stroke="#bababa" stroke-width="17" stroke-linecap="round" fill="none"/>
<path d="M537,368 Q539,395 544.5,410" stroke="#fff" stroke-width="1.1" opacity=".55" fill="none"/>
<path d="M537.2,436 L545,436 L537.2,443.5Z" fill="#fff" opacity=".9"/>
<path d="M514.7,407 L514.7,413 L510.5,413Z" fill="#fff" opacity=".8"/>
<g stroke="#f2f2f2" stroke-width="1.5" fill="none" opacity=".9"><path d="M236.7,425 H331" stroke-dasharray="16 10.1"/><path d="M437.7,425 H517" stroke-dasharray="15.5 8.3"/><path d="M524.7,425 H637" stroke-dasharray="15.5 8.8"/><path d="M762.7,425 H1020.5" stroke-dasharray="14.5 9.5"/></g>
<path d="M125,425.4 H137" stroke="#f2f2f2" stroke-width="1.5" fill="none" opacity=".9"/>
<path d="M526,56 V712" stroke="#d6d6d6" stroke-width="1.8" stroke-dasharray="16 7" fill="none" opacity=".85"/>
<path d="M499,436 L458,476" stroke="#e4e4e4" stroke-width="1.4" stroke-dasharray="14 6" fill="none" opacity=".7"/>
</g>
<rect x="165.6" y="36.2" width="26.5" height="683.8" rx="13.2" ry="13.2" fill="url(#riv)"/>
<g id="bridges">
<path d="M130,107.4 Q179,75.7 205,105.2 L205,122.5 L203,122.5 Q179,96.6 145.7,120.3 L130,120.3 Z" fill="#bababa"/><path d="M130,107.4 Q179,75.7 205,105.2" fill="none" stroke="#fff" stroke-width="2" opacity=".45" transform="translate(0,-1)"/><path d="M145.7,120.3 Q179,96.6 203,122.5" fill="none" stroke="#fff" stroke-width="2" opacity=".9" transform="translate(0,1)"/><path d="M130,107.4 Q179,75.7 205,105.2" fill="none" stroke="#5a6468" stroke-width=".8" opacity=".85"/><path d="M145.7,120.3 Q179,96.6 203,122.5" fill="none" stroke="#5a6468" stroke-width=".8" opacity=".85"/>
<path d="M140,221.9 Q176,195.6 204,219 L204,235.3 L200,235.3 Q176,218.1 146.2,235.3 L140,235.3 Z" fill="#bababa"/><path d="M140,221.9 Q176,195.6 204,219" fill="none" stroke="#fff" stroke-width="2" opacity=".45" transform="translate(0,-1)"/><path d="M146.2,235.3 Q176,218.1 200,235.3" fill="none" stroke="#fff" stroke-width="2" opacity=".9" transform="translate(0,1)"/><path d="M140,221.9 Q176,195.6 204,219" fill="none" stroke="#5a6468" stroke-width=".8" opacity=".85"/><path d="M146.2,235.3 Q176,218.1 200,235.3" fill="none" stroke="#5a6468" stroke-width=".8" opacity=".85"/>
<path d="M143.6,414.6 Q179.5,399.0 214.3,414.6 L214.3,435.4 L209.7,435.4 Q179.5,414.6 149.4,435.4 L143.6,435.4 Z" fill="#bababa"/><path d="M143.6,414.6 Q179.5,399.0 214.3,414.6" fill="none" stroke="#fff" stroke-width="2" opacity=".45" transform="translate(0,-1)"/><path d="M149.4,435.4 Q179.5,414.6 209.7,435.4" fill="none" stroke="#fff" stroke-width="2" opacity=".9" transform="translate(0,1)"/><path d="M143.6,414.6 Q179.5,399.0 214.3,414.6" fill="none" stroke="#5a6468" stroke-width=".8" opacity=".85"/><path d="M149.4,435.4 Q179.5,414.6 209.7,435.4" fill="none" stroke="#5a6468" stroke-width=".8" opacity=".85"/>
<path d="M147,668.5 Q179.5,647.4 211,670.8 L211,686.3 L203.9,686.3 Q179.5,666.4 154.6,687 L147,687 Z" fill="#bababa"/><path d="M147,668.5 Q179.5,647.4 211,670.8" fill="none" stroke="#fff" stroke-width="2" opacity=".45" transform="translate(0,-1)"/><path d="M154.6,687 Q179.5,666.4 203.9,686.3" fill="none" stroke="#fff" stroke-width="2" opacity=".9" transform="translate(0,1)"/><path d="M147,668.5 Q179.5,647.4 211,670.8" fill="none" stroke="#5a6468" stroke-width=".8" opacity=".85"/><path d="M154.6,687 Q179.5,666.4 203.9,686.3" fill="none" stroke="#5a6468" stroke-width=".8" opacity=".85"/>
</g>
<g id="rails">
<path d="M17,687 H512.6 V701" fill="none" stroke="#7030a0" stroke-width="3.6" stroke-linejoin="miter"/>
<path d="M1041,416 H515 V670.3 L464,688" fill="none" stroke="#f542c4" stroke-width="4.3" stroke-linejoin="miter"/>
</g>
<rect x="818.7" y="50" width="17.7" height="666.5" rx="8.85" ry="8.85" fill="#f79a55"/>
<g transform="translate(102.8,686.3) rotate(-30.55)" opacity=".58"><g class="ser" font-size="97.9" font-weight="700" fill="#e4e4e4" stroke="#e4e4e4" stroke-width="4" stroke-linejoin="round"><text class="ser" x="726.2" y="0">ets</text><text class="ser" x="840.4" y="0" textLength="180" lengthAdjust="spacingAndGlyphs">.com</text></g></g>
<g id="stations">
<circle cx="54.3" cy="689.3" r="4.8" fill="#fff" stroke="#7030a0" stroke-width="2.4"/>
<circle cx="111" cy="689.3" r="4.8" fill="#fff" stroke="#7030a0" stroke-width="2.4"/>
<circle cx="219" cy="689.3" r="4.8" fill="#fff" stroke="#7030a0" stroke-width="2.4"/>
<circle cx="323.3" cy="689.3" r="4.8" fill="#fff" stroke="#7030a0" stroke-width="2.4"/>
<circle cx="393.6" cy="689.3" r="4.8" fill="#fff" stroke="#7030a0" stroke-width="2.4"/>
<circle cx="459.5" cy="689.3" r="4.8" fill="#fff" stroke="#7030a0" stroke-width="2.4"/>
<circle cx="510.4" cy="704.5" r="4.8" fill="#fff" stroke="#7030a0" stroke-width="2.4"/>
<circle cx="631.2" cy="415.6" r="5.1" fill="#fff" stroke="#f542c4" stroke-width="2.1"/>
<circle cx="688" cy="415.6" r="5.1" fill="#fff" stroke="#f542c4" stroke-width="2.1"/>
<circle cx="763" cy="415.6" r="5.1" fill="#fff" stroke="#f542c4" stroke-width="2.1"/>
<circle cx="842.3" cy="415.6" r="5.1" fill="#fff" stroke="#f542c4" stroke-width="2.1"/>
<circle cx="884" cy="415.6" r="5.1" fill="#fff" stroke="#f542c4" stroke-width="2.1"/>
<circle cx="929" cy="415.6" r="5.1" fill="#fff" stroke="#f542c4" stroke-width="2.1"/>
<circle cx="970.7" cy="415.6" r="5.1" fill="#fff" stroke="#f542c4" stroke-width="2.1"/>
<circle cx="514.8" cy="437" r="5.1" fill="#fff" stroke="#f542c4" stroke-width="2.1"/>
<circle cx="514.8" cy="533" r="5.1" fill="#fff" stroke="#f542c4" stroke-width="2.1"/>
<circle cx="514.8" cy="575.7" r="5.1" fill="#fff" stroke="#f542c4" stroke-width="2.1"/>
<circle cx="514.8" cy="612" r="5.1" fill="#fff" stroke="#f542c4" stroke-width="2.1"/>
<circle cx="514.8" cy="670.3" r="5.1" fill="#fff" stroke="#f542c4" stroke-width="2.1"/>
</g>
<g id="icons">
<use href="#hosp" transform="translate(494,76.4)"/>
<use href="#hosp" transform="translate(501.5,329.2)"/>
<use href="#hosp" transform="translate(380.6,444.4)"/>
<use href="#hosp" transform="translate(499.8,534.2)"/>
<circle cx="550" cy="76.4" r="8.2" fill="url(#pg)"/>
<circle cx="551.7" cy="190" r="8" fill="url(#pg)"/>
<circle cx="879" cy="313" r="8" fill="url(#pg)"/>
<circle cx="979.7" cy="403.7" r="8" fill="url(#pg)"/>
<circle cx="707.6" cy="404.8" r="6.3" fill="url(#pg)"/>
<circle cx="321" cy="404.3" r="8.5" fill="url(#og)"/>
<circle cx="927.1" cy="445" r="8.5" fill="url(#og)"/>
<circle cx="397.3" cy="589" r="8.5" fill="url(#og)"/>
<circle cx="254.3" cy="634" r="8.5" fill="url(#og)"/>
<use href="#ptt" transform="translate(700.7,89)"/>
<use href="#ptt" transform="translate(946,201)"/>
<use href="#ptt" transform="translate(502,350.3)"/>
<use href="#slogo" transform="translate(549.7,165.7)"/>
<use href="#slogo" transform="translate(550.6,358.9)"/>
<use href="#sev" transform="translate(82.4,236.7) scale(1.04,1)"/>
<use href="#sev" transform="translate(542.8,265.2)"/>
<g transform="translate(541.5,236.2)"><rect width="17.6" height="16.4" rx="3" fill="#3a74d4"/><rect x="1.6" y="1.6" width="14.4" height="13.2" rx="2.4" fill="#a9dcf2"/><path d="M3.4,9 C3.4,3.4 8,1.6 14.6,2 C11.4,3.4 10.8,5 11.6,7 C12.8,10.4 10.6,14.2 7.4,14 C5,13.8 3.4,11.8 3.4,9Z" fill="#17979c"/><path d="M1.5,18.6h15" stroke="#8bb0dc" stroke-width="1.2" stroke-dasharray="2 .8"/></g>
<use href="#tesco" transform="translate(300.3,436.8)"/>
<use href="#tesco" transform="translate(477.8,625.6) scale(.985,.95)"/>
<g transform="translate(437.3,435)"><rect x=".4" y=".4" width="21.4" height="25" fill="#e4e4e4" stroke="#8e8e8e" stroke-width=".8"/><path d="M5.4,5.2h11.4" stroke="#d43a32" stroke-width="1.6"/><path d="M6.4,6.4V18.6M9.6,6.4V18.6M12.8,6.4V18.6M16,6.4V18.6" stroke="#d8362f" stroke-width="1.7"/><path d="M4.6,4 L11.1,1.8 L17.6,4Z" fill="#d8362f" opacity=".8"/><path d="M4,21.6h14" stroke="#9a8f8f" stroke-width="1.4" stroke-dasharray="1.6 .7"/></g>
<g transform="translate(565,387.4)"><text x="1" y="6.4" font-size="6.6" font-weight="700" font-style="italic" fill="#7e57a8" textLength="13" lengthAdjust="spacingAndGlyphs">E.GV</text><text x="5" y="19.6" font-size="17" font-weight="700" font-style="italic" fill="#22a3b4" textLength="34" lengthAdjust="spacingAndGlyphs" stroke="#1c7f96" stroke-width=".3">MGV</text><path d="M20,14.6 q6,-3.4 12,-1" stroke="#7fd6e0" stroke-width="1" fill="none"/></g>
<use href="#central" transform="translate(697.3,449)"/>
<use href="#central" transform="translate(363.4,639.4) scale(1.07,1.04)"/>
<text class="ser" x="363.4" y="658" text-anchor="middle" font-size="7.6" font-weight="700" fill="#d8242c" textLength="28" lengthAdjust="spacingAndGlyphs">Central</text>
<g transform="translate(764.5,438)"><path d="M.6,1.2 L38.6,0 L39,36.6 L0,37Z" fill="url(#key)"/><text x="19.4" y="18.6" text-anchor="middle" font-size="11.5" fill="#dfe8ef" textLength="25" lengthAdjust="spacingAndGlyphs">KEY</text><circle cx="19.2" cy="14.4" r=".8" fill="#e03030"/><path d="M14,8.6h5" stroke="#8fb0c8" stroke-width=".7"/><path d="M8,29h23" stroke="#7fa0bb" stroke-width=".9" stroke-dasharray="1.4 .6"/><path d="M1,33.2h37.6" stroke="#c8202a" stroke-width="1.2"/></g>
<use href="#tot" transform="translate(947.2,438.6)"/>
<use href="#tot" transform="translate(767.6,653.6) scale(.79,.9)"/>
<g transform="translate(477.2,648.4)"><rect width="35.2" height="21.9" fill="#5c2a70"/><path d="M11,9.2 q3,-4.6 7,-2 q-3,.2 -3.6,2.8z M18.4,10 q3.6,-5.6 9.4,-4.6 q-2.6,4.6 -6.8,5z" fill="#f1e8f4"/><path d="M9,8.8 q2,-2 4,-.2" stroke="#f1e8f4" stroke-width="1.3" fill="none"/><text x="17.6" y="15.6" text-anchor="middle" font-size="4.4" font-weight="700" fill="#efe6f3" textLength="29" lengthAdjust="spacing">ESPLANADE</text><path d="M6,18.6h23" stroke="#cdb8d8" stroke-width="1.3" stroke-dasharray="1.8 .6"/></g>
<g transform="translate(864,650.3)"><path d="M5.2,.6h4.4l-5,13.6h-4.4z M12,.6h4.4l-5,13.6h-4.4z M18.8,.6h4.4l-5,13.6h-4.4z" fill="#e23a3e"/><path d="M5.2,.6h4.4l-5,13.6h-4.4z M12,.6h4.4l-5,13.6h-4.4z M18.8,.6h4.4l-5,13.6h-4.4z" fill="none" stroke="#fff" stroke-width=".5" stroke-dasharray="1.2 1" opacity=".7"/><path d="M2,16.4h18" stroke="#d8a0a2" stroke-width="1.3" stroke-dasharray="2 .7"/></g>
<g transform="translate(550.4,514.7)"><circle r="9" fill="#c9954b"/><path d="M0,-8.2 L1,-3.4 L2.6,0.4 L4.6,3.2 L5.6,5.6 L-5.6,5.6 L-4.6,3.2 L-2.6,0.4 L-1,-3.4Z" fill="#fff"/><path d="M-3.4,2.2h6.8" stroke="#e9d2ae" stroke-width=".8"/></g>
<g transform="translate(232.6,403.2)"><circle r="10.3" fill="#0e3e6e"/><path d="M-9.3,4.4 H9.3 A10.3,10.3 0 0 1 -9.3,4.4Z" fill="#1b6ea6"/><path d="M-4.6,-1.6 L4.6,-1.6 L3.4,3.4 Q0,4.6 -3.4,3.4Z" fill="#fff"/><path d="M-3,-1.6 V-4 H3 V-1.6Z M-1.2,-4 V-6 H1.2 V-4Z" fill="#e6eef5"/><path d="M-6.6,4.4 q1.6,-1.4 3.3,0 q1.6,1.4 3.3,0 q1.6,-1.4 3.3,0 q1.6,1.4 3.3,0" stroke="#cfe3f1" stroke-width="1" fill="none"/></g>
<ellipse cx="943.2" cy="619" rx="12.4" ry="3.9" fill="#b2b2b2"/><path d="M925.6,595.9 A19.8,19.8 0 1 1 962.4,595.9 Q952.5,607.4 943.4,618.4 Q934.5,607.4 925.6,595.9Z" fill="url(#pin)"/><circle cx="944" cy="588.4" r="15.4" fill="#e0161e" stroke="#fff" stroke-width="1.1"/><g transform="translate(944,589.8)" fill="#fde3e3"><path d="M0,-9.6 L10,-0.6 L7.2,-0.6 L7.2,7.4 L2,7.4 L2,2 L-2,2 L-2,7.4 L-7.2,7.4 L-7.2,-0.6 L-10,-0.6Z"/><rect x="4" y="-8.4" width="2.4" height="4.4"/></g>
<g id="logo" transform="translate(1064.2,32.6)"><g fill="#3b7dd8"><ellipse cx="-8.35" cy="-20.68" rx="1.9" ry="4.2" transform="rotate(40.0 -8.35 -20.68)"/><ellipse cx="-14.03" cy="-17.33" rx="1.9" ry="4.2" transform="rotate(23.0 -14.03 -17.33)"/><ellipse cx="-13.60" cy="-12.69" rx="1.3" ry="3.1" transform="rotate(71.0 -13.60 -12.69)"/><ellipse cx="-18.49" cy="-12.47" rx="1.9" ry="4.2" transform="rotate(6.0 -18.49 -12.47)"/><ellipse cx="-16.72" cy="-8.15" rx="1.3" ry="3.1" transform="rotate(54.0 -16.72 -8.15)"/><ellipse cx="-21.33" cy="-6.52" rx="1.9" ry="4.2" transform="rotate(-11.0 -21.33 -6.52)"/><ellipse cx="-18.37" cy="-2.91" rx="1.3" ry="3.1" transform="rotate(37.0 -18.37 -2.91)"/><ellipse cx="-22.30" cy="-0.00" rx="1.9" ry="4.2" transform="rotate(-28.0 -22.30 -0.00)"/><ellipse cx="-18.42" cy="2.59" rx="1.3" ry="3.1" transform="rotate(20.0 -18.42 2.59)"/><ellipse cx="-21.33" cy="6.52" rx="1.9" ry="4.2" transform="rotate(-45.0 -21.33 6.52)"/><ellipse cx="-16.86" cy="7.86" rx="1.3" ry="3.1" transform="rotate(3.0 -16.86 7.86)"/><ellipse cx="-18.49" cy="12.47" rx="1.9" ry="4.2" transform="rotate(-62.0 -18.49 12.47)"/><ellipse cx="-13.82" cy="12.45" rx="1.3" ry="3.1" transform="rotate(-14.0 -13.82 12.45)"/><ellipse cx="-14.03" cy="17.33" rx="1.9" ry="4.2" transform="rotate(-79.0 -14.03 17.33)"/><ellipse cx="-9.58" cy="15.94" rx="1.3" ry="3.1" transform="rotate(-31.0 -9.58 15.94)"/><ellipse cx="-8.35" cy="20.68" rx="1.9" ry="4.2" transform="rotate(-96.0 -8.35 20.68)"/><ellipse cx="-4.50" cy="18.05" rx="1.3" ry="3.1" transform="rotate(-48.0 -4.50 18.05)"/><ellipse cx="8.35" cy="-20.68" rx="1.9" ry="4.2" transform="rotate(-40.0 8.35 -20.68)"/><ellipse cx="14.03" cy="-17.33" rx="1.9" ry="4.2" transform="rotate(-23.0 14.03 -17.33)"/><ellipse cx="13.60" cy="-12.69" rx="1.3" ry="3.1" transform="rotate(-71.0 13.60 -12.69)"/><ellipse cx="18.49" cy="-12.47" rx="1.9" ry="4.2" transform="rotate(-6.0 18.49 -12.47)"/><ellipse cx="16.72" cy="-8.15" rx="1.3" ry="3.1" transform="rotate(-54.0 16.72 -8.15)"/><ellipse cx="21.33" cy="-6.52" rx="1.9" ry="4.2" transform="rotate(11.0 21.33 -6.52)"/><ellipse cx="18.37" cy="-2.91" rx="1.3" ry="3.1" transform="rotate(-37.0 18.37 -2.91)"/><ellipse cx="22.30" cy="-0.00" rx="1.9" ry="4.2" transform="rotate(28.0 22.30 -0.00)"/><ellipse cx="18.42" cy="2.59" rx="1.3" ry="3.1" transform="rotate(-20.0 18.42 2.59)"/><ellipse cx="21.33" cy="6.52" rx="1.9" ry="4.2" transform="rotate(45.0 21.33 6.52)"/><ellipse cx="16.86" cy="7.86" rx="1.3" ry="3.1" transform="rotate(-3.0 16.86 7.86)"/><ellipse cx="18.49" cy="12.47" rx="1.9" ry="4.2" transform="rotate(62.0 18.49 12.47)"/><ellipse cx="13.82" cy="12.45" rx="1.3" ry="3.1" transform="rotate(14.0 13.82 12.45)"/><ellipse cx="14.03" cy="17.33" rx="1.9" ry="4.2" transform="rotate(79.0 14.03 17.33)"/><ellipse cx="9.58" cy="15.94" rx="1.3" ry="3.1" transform="rotate(31.0 9.58 15.94)"/><ellipse cx="8.35" cy="20.68" rx="1.9" ry="4.2" transform="rotate(96.0 8.35 20.68)"/><ellipse cx="4.50" cy="18.05" rx="1.3" ry="3.1" transform="rotate(48.0 4.50 18.05)"/></g><path d="M-7,19.5 Q-1,21.5 5.5,26.5 M7,19.5 Q1,21.5 -5.5,26.5" stroke="#3b7dd8" stroke-width="1.5" fill="none" stroke-linecap="round"/><path d="M-14.6,-5 L0,-18.2 L14.6,-5 L14.6,-1.2 L0,-13.6 L-14.6,-1.2Z" fill="#3b7dd8"/><rect x="-1.6" y="-10.2" width="3.2" height="4.2" fill="#3b7dd8"/><rect x="-.7" y="-9.2" width="1.4" height="1.2" fill="#fff"/><rect x="-11.6" y="-1.2" width="3.2" height="12" fill="#f5b81c"/><path d="M-11.6,-2 l3.2,-1.6 v2.4 h-3.2z" fill="#f5b81c"/><path d="M-7.4,-3.4 H6.6 Q12.4,-3.4 12.4,0.6 Q12.4,3.2 9.8,3.9 Q12.8,4.6 12.8,7.4 Q12.8,10.8 6.8,10.8 H-7.4Z" fill="#3b7dd8"/><path d="M-4.6,0.1 H7.6 M-4.6,6.9 H7.8" stroke="#fff" stroke-width="1.5" stroke-linecap="round"/><path d="M-4.6,0.1 H7.6 M-4.6,6.9 H7.8" stroke="#3b7dd8" stroke-width=".5" stroke-dasharray=".8 .8" opacity=".6"/></g><text x="1064.4" y="67.8" text-anchor="middle" font-size="8.2" font-weight="700" fill="#3b7dd8" textLength="77" lengthAdjust="spacingAndGlyphs">BANGKOK ASSET</text><text x="1064.8" y="74.2" text-anchor="middle" font-size="3.9" fill="#7fa3dc" textLength="41" lengthAdjust="spacing">INTERGROUP</text>
<g font-weight="700" fill="#111" font-size="10.6"><text x="801.3" y="281.3" textLength="111" lengthAdjust="spacingAndGlyphs">IMPACT Arena Muang</text><text x="825.3" y="300.3" textLength="62.7" lengthAdjust="spacingAndGlyphs">Thong Thani</text><text x="929.7" y="373.7" textLength="48.3" lengthAdjust="spacingAndGlyphs">IT Square</text></g>
</g>
<g id="labels" fill="#000"><g transform="translate(494.95,43.5) scale(0.01397,-0.01704)"><title>ไปปทุมธานี</title><use href="#m489"/><use href="#m459" x="308"/><use href="#m459" x="941"/><use href="#m455" x="1574"/><use href="#m753" x="2192"/><use href="#m465" x="2192"/><use href="#m456" x="2810"/><use href="#m483" x="3348"/><use href="#m457" x="3793"/><use href="#m740" x="4411"/></g>
<g transform="translate(793.25,43.5) scale(0.01374,-0.01704)"><title>ไปปทุมธานี</title><use href="#m489"/><use href="#m459" x="308"/><use href="#m459" x="941"/><use href="#m455" x="1574"/><use href="#m753" x="2192"/><use href="#m465" x="2192"/><use href="#m456" x="2810"/><use href="#m483" x="3348"/><use href="#m457" x="3793"/><use href="#m740" x="4411"/></g>
<g transform="translate(868.95,43.5) scale(0.01381,-0.01704)"><title>ไปปทุมธานี</title><use href="#m489"/><use href="#m459" x="308"/><use href="#m459" x="941"/><use href="#m455" x="1574"/><use href="#m753" x="2192"/><use href="#m465" x="2192"/><use href="#m456" x="2810"/><use href="#m483" x="3348"/><use href="#m457" x="3793"/><use href="#m740" x="4411"/></g>
<g transform="translate(974.94,43.5) scale(0.01352,-0.01704)"><title>ไปธัญบุรี</title><use href="#m489"/><use href="#m459" x="308"/><use href="#m456" x="941"/><use href="#m719" x="1479"/><use href="#m441" x="1479"/><use href="#m458" x="2456"/><use href="#m753" x="3089"/><use href="#m467" x="3089"/><use href="#m740" x="3592"/></g>
<g transform="translate(331.20,77) scale(0.01359,-0.01704)"><title>รพ.กรุงสยามเซนต์คาร์ลอส</title><use href="#m467"/><use href="#m462" x="503"/><use href="#m542" x="1228"/><use href="#m427" x="1412"/><use href="#m467" x="2034"/><use href="#m753" x="2537"/><use href="#m433" x="2537"/><use href="#m476" x="3064"/><use href="#m466" x="3686"/><use href="#m483" x="4293"/><use href="#m465" x="4738"/><use href="#m485" x="5356"/><use href="#m437" x="5664"/><use href="#m457" x="6261"/><use href="#m453" x="6879"/><use href="#m732" x="7538"/><use href="#m430" x="7538"/><use href="#m483" x="8166"/><use href="#m467" x="8611"/><use href="#m732" x="9114"/><use href="#m470" x="9114"/><use href="#m480" x="9717"/><use href="#m476" x="10291"/></g>
<g transform="translate(564.18,77) scale(0.01397,-0.01704)"><title>ตลาดพูนทรัพย์</title><use href="#m453"/><use href="#m470" x="659"/><use href="#m483" x="1262"/><use href="#m452" x="1707"/><use href="#m462" x="2360"/><use href="#m755" x="2990"/><use href="#m457" x="3085"/><use href="#m455" x="3703"/><use href="#m467" x="4321"/><use href="#m719" x="4824"/><use href="#m462" x="4824"/><use href="#m466" x="5549"/><use href="#m732" x="6156"/></g>
<g transform="translate(130.44,104) scale(0.01401,-0.01574)"><title>สะพานปทุมธานี</title><use href="#m476"/><use href="#m482" x="622"/><use href="#m462" x="945"/><use href="#m483" x="1670"/><use href="#m457" x="2115"/><use href="#m459" x="2733"/><use href="#m455" x="3366"/><use href="#m753" x="3984"/><use href="#m465" x="3984"/><use href="#m456" x="4602"/><use href="#m483" x="5140"/><use href="#m457" x="5585"/><use href="#m740" x="6203"/></g>
<g transform="translate(282.79,119.5) scale(0.01370,-0.01667)"><title>ถ.สะพานนนทบุรี-บางบัวทอง</title><use href="#m454"/><use href="#m542" x="622"/><use href="#m476" x="806"/><use href="#m482" x="1428"/><use href="#m462" x="1751"/><use href="#m483" x="2476"/><use href="#m457" x="2921"/><use href="#m457" x="3539"/><use href="#m457" x="4157"/><use href="#m455" x="4775"/><use href="#m458" x="5393"/><use href="#m753" x="6026"/><use href="#m467" x="6026"/><use href="#m740" x="6529"/><use href="#m567" x="6529"/><use href="#m458" x="6989"/><use href="#m483" x="7622"/><use href="#m433" x="8067"/><use href="#m458" x="8594"/><use href="#m719" x="9227"/><use href="#m473" x="9227"/><use href="#m455" x="9718"/><use href="#m480" x="10336"/><use href="#m433" x="10910"/></g>
<g transform="translate(603.48,117) scale(0.01393,-0.01704)"><title>ถ.บางบัวทอง-บางพูน</title><use href="#m454"/><use href="#m542" x="622"/><use href="#m458" x="806"/><use href="#m483" x="1439"/><use href="#m433" x="1884"/><use href="#m458" x="2411"/><use href="#m719" x="3044"/><use href="#m473" x="3044"/><use href="#m455" x="3535"/><use href="#m480" x="4153"/><use href="#m433" x="4727"/><use href="#m567" x="5254"/><use href="#m458" x="5714"/><use href="#m483" x="6347"/><use href="#m433" x="6792"/><use href="#m462" x="7319"/><use href="#m755" x="7949"/><use href="#m457" x="8044"/></g>
<g transform="translate(572.41,170) scale(0.01339,-0.01704)"><title>โรงเรียนพระหฤทัยคอนแวนต์</title><use href="#m487"/><use href="#m467" x="313"/><use href="#m433" x="816"/><use href="#m485" x="1343"/><use href="#m467" x="1651"/><use href="#m740" x="2154"/><use href="#m466" x="2154"/><use href="#m457" x="2761"/><use href="#m462" x="3379"/><use href="#m467" x="4104"/><use href="#m482" x="4607"/><use href="#m477" x="4930"/><use href="#m468" x="5540"/><use href="#m455" x="6162"/><use href="#m719" x="6780"/><use href="#m466" x="6780"/><use href="#m430" x="7387"/><use href="#m480" x="8015"/><use href="#m457" x="8589"/><use href="#m486" x="9207"/><use href="#m473" x="9769"/><use href="#m457" x="10260"/><use href="#m453" x="10878"/><use href="#m732" x="11537"/></g>
<g transform="translate(571.48,194.3) scale(0.01395,-0.01704)"><title>ตลาดดวงแก้ว</title><use href="#m453"/><use href="#m470" x="659"/><use href="#m483" x="1262"/><use href="#m452" x="1707"/><use href="#m452" x="2360"/><use href="#m473" x="3013"/><use href="#m433" x="3504"/><use href="#m486" x="4031"/><use href="#m427" x="4593"/><use href="#m724" x="5215"/><use href="#m473" x="5215"/></g>
<g transform="translate(9.74,196.5) scale(0.01349,-0.01704)"><title>ไปแยกบางคูรัด</title><use href="#m489"/><use href="#m459" x="308"/><use href="#m486" x="941"/><use href="#m466" x="1503"/><use href="#m427" x="2110"/><use href="#m458" x="2732"/><use href="#m483" x="3365"/><use href="#m433" x="3810"/><use href="#m430" x="4337"/><use href="#m755" x="4965"/><use href="#m467" x="4965"/><use href="#m719" x="5468"/><use href="#m452" x="5468"/></g>
<g transform="translate(25.11,219.5) scale(0.01328,-0.01704)"><title>/ปทุมธานี</title><use href="#m555"/><use href="#m459" x="446"/><use href="#m455" x="1079"/><use href="#m753" x="1697"/><use href="#m465" x="1697"/><use href="#m456" x="2315"/><use href="#m483" x="2853"/><use href="#m457" x="3298"/><use href="#m740" x="3916"/></g>
<g transform="translate(133.73,224) scale(0.01417,-0.01574)"><title>สะพานนวลฉวี</title><use href="#m476"/><use href="#m482" x="622"/><use href="#m462" x="945"/><use href="#m483" x="1670"/><use href="#m457" x="2115"/><use href="#m457" x="2733"/><use href="#m473" x="3351"/><use href="#m470" x="3842"/><use href="#m435" x="4445"/><use href="#m473" x="5040"/><use href="#m740" x="5531"/></g>
<g transform="translate(485.50,232.3) scale(0.01337,-0.01667)"><title>แยกสวนสมเด็จ</title><use href="#m486"/><use href="#m466" x="562"/><use href="#m427" x="1169"/><use href="#m476" x="1791"/><use href="#m473" x="2413"/><use href="#m457" x="2904"/><use href="#m476" x="3522"/><use href="#m465" x="4144"/><use href="#m485" x="4762"/><use href="#m452" x="5070"/><use href="#m735" x="5723"/><use href="#m434" x="5723"/></g>
<g transform="translate(628.64,235) scale(0.01770,-0.02037)"><title>ถ.ศรีสมาน</title><use href="#r454"/><use href="#r542" x="613"/><use href="#r474" x="792"/><use href="#r467" x="1428"/><use href="#r740" x="1932"/><use href="#r476" x="1932"/><use href="#r465" x="2541"/><use href="#r483" x="3146"/><use href="#r457" x="3586"/></g>
<g transform="translate(857.86,235) scale(0.01710,-0.02037)"><title>ถนนสรงประภา</title><use href="#r454"/><use href="#r457" x="613"/><use href="#r457" x="1218"/><use href="#r476" x="1823"/><use href="#r467" x="2432"/><use href="#r433" x="2936"/><use href="#r459" x="3500"/><use href="#r467" x="4121"/><use href="#r482" x="4625"/><use href="#r464" x="4949"/><use href="#r483" x="5596"/></g>
<g transform="translate(428.50,333) scale(0.01356,-0.01704)"><title>รพ.กรุงไทย</title><use href="#m467"/><use href="#m462" x="503"/><use href="#m542" x="1228"/><use href="#m427" x="1412"/><use href="#m467" x="2034"/><use href="#m753" x="2537"/><use href="#m433" x="2537"/><use href="#m489" x="3064"/><use href="#m455" x="3372"/><use href="#m466" x="3990"/></g>
<g transform="translate(563.31,353.2) scale(0.01330,-0.01815)"><title>โรงเรียนสวนกุหลาบ</title><use href="#m487"/><use href="#m467" x="313"/><use href="#m433" x="816"/><use href="#m485" x="1343"/><use href="#m467" x="1651"/><use href="#m740" x="2154"/><use href="#m466" x="2154"/><use href="#m457" x="2761"/><use href="#m476" x="3379"/><use href="#m473" x="4001"/><use href="#m457" x="4492"/><use href="#m427" x="5110"/><use href="#m753" x="5732"/><use href="#m477" x="5732"/><use href="#m470" x="6342"/><use href="#m483" x="6945"/><use href="#m458" x="7390"/></g>
<g transform="translate(573.11,374.6) scale(0.01350,-0.01815)"><title>วิทยาลัยนนทบุรี</title><use href="#m473"/><use href="#m738" x="491"/><use href="#m455" x="491"/><use href="#m466" x="1109"/><use href="#m483" x="1716"/><use href="#m470" x="2161"/><use href="#m719" x="2764"/><use href="#m466" x="2764"/><use href="#m457" x="3371"/><use href="#m457" x="3989"/><use href="#m455" x="4607"/><use href="#m458" x="5225"/><use href="#m753" x="5858"/><use href="#m467" x="5858"/><use href="#m740" x="6361"/></g>
<g transform="translate(663.52,380.8) scale(0.01031,-0.01389)"><title>อาคารซอฟต์แวร์</title><use href="#m480"/><use href="#m483" x="574"/><use href="#m430" x="1019"/><use href="#m483" x="1647"/><use href="#m467" x="2092"/><use href="#m437" x="2595"/><use href="#m480" x="3192"/><use href="#m463" x="3766"/><use href="#m453" x="4491"/><use href="#m732" x="5150"/><use href="#m486" x="5150"/><use href="#m473" x="5712"/><use href="#m467" x="6203"/><use href="#m732" x="6706"/></g>
<g transform="translate(663.30,396.8) scale(0.01056,-0.01389)"><title>ปาร์ค แจ้งวัฒนะ</title><use href="#m459"/><use href="#m483" x="633"/><use href="#m467" x="1078"/><use href="#m732" x="1581"/><use href="#m430" x="1581"/><use href="#m486" x="2429"/><use href="#m434" x="2991"/><use href="#m724" x="3551"/><use href="#m433" x="3551"/><use href="#m473" x="4078"/><use href="#m719" x="4569"/><use href="#m450" x="4569"/><use href="#m457" x="5562"/><use href="#m482" x="6180"/></g>
<g transform="translate(913.04,392) scale(0.01164,-0.01574)"><title>หลักสี่-แจ้งวัฒนะ</title><use href="#m477"/><use href="#m470" x="610"/><use href="#m719" x="1213"/><use href="#m427" x="1213"/><use href="#m476" x="1835"/><use href="#m740" x="2438"/><use href="#m722" x="2438" y="10"/><use href="#m567" x="2457"/><use href="#m486" x="2917"/><use href="#m434" x="3479"/><use href="#m724" x="4039"/><use href="#m433" x="4039"/><use href="#m473" x="4566"/><use href="#m719" x="5057"/><use href="#m450" x="5057"/><use href="#m457" x="6050"/><use href="#m482" x="6668"/></g>
<g transform="translate(1002.23,389.3) scale(0.01293,-0.01704)"><title>ไปบางเขน</title><use href="#m489"/><use href="#m459" x="308"/><use href="#m458" x="941"/><use href="#m483" x="1574"/><use href="#m433" x="2019"/><use href="#m485" x="2546"/><use href="#m428" x="2854"/><use href="#m457" x="3449"/></g>
<g transform="translate(298.47,372) scale(0.01452,-0.01704)"><title>ที่ว่าการ</title><use href="#m455"/><use href="#m740" x="618"/><use href="#m722" x="618" y="10"/><use href="#m473" x="618"/><use href="#m721" x="1109"/><use href="#m483" x="1109"/><use href="#m427" x="1554"/><use href="#m483" x="2176"/><use href="#m467" x="2621"/></g>
<g transform="translate(292.20,393.6) scale(0.01350,-0.01704)"><title>อ.ปากเกร็ด</title><use href="#m480"/><use href="#m542" x="574"/><use href="#m459" x="758"/><use href="#m483" x="1391"/><use href="#m427" x="1836"/><use href="#m485" x="2458"/><use href="#m427" x="2766"/><use href="#m467" x="3388"/><use href="#m735" x="3891"/><use href="#m452" x="3891"/></g>
<g transform="translate(174.93,391) scale(0.01351,-0.01704)"><title>ท่าเรือปากเกร็ด</title><use href="#m455"/><use href="#m721" x="618"/><use href="#m483" x="618"/><use href="#m485" x="1063"/><use href="#m467" x="1371"/><use href="#m744" x="1874"/><use href="#m480" x="1874"/><use href="#m459" x="2448"/><use href="#m483" x="3081"/><use href="#m427" x="3526"/><use href="#m485" x="4148"/><use href="#m427" x="4456"/><use href="#m467" x="5078"/><use href="#m735" x="5581"/><use href="#m452" x="5581"/></g>
<g transform="translate(13.55,407) scale(0.01390,-0.01704)"><title>ไปบางบัวทอง</title><use href="#m489"/><use href="#m459" x="308"/><use href="#m458" x="941"/><use href="#m483" x="1574"/><use href="#m433" x="2019"/><use href="#m458" x="2546"/><use href="#m719" x="3179"/><use href="#m473" x="3179"/><use href="#m455" x="3670"/><use href="#m480" x="4288"/><use href="#m433" x="4862"/></g>
<g transform="translate(40.20,428.7) scale(0.01352,-0.01667)"><title>ถนนชัยพฤกษ์</title><use href="#m454"/><use href="#m457" x="622"/><use href="#m457" x="1240"/><use href="#m436" x="1858"/><use href="#m719" x="2455"/><use href="#m466" x="2455"/><use href="#m462" x="3062"/><use href="#m468" x="3787"/><use href="#m427" x="4409"/><use href="#m475" x="5031"/><use href="#m732" x="5664"/></g>
<g transform="translate(132.75,420.3) scale(0.01379,-0.01667)"><title>สะพานพระราม4</title><use href="#m476"/><use href="#m482" x="622"/><use href="#m462" x="945"/><use href="#m483" x="1670"/><use href="#m457" x="2115"/><use href="#m462" x="2733"/><use href="#m467" x="3458"/><use href="#m482" x="3961"/><use href="#m467" x="4284"/><use href="#m483" x="4787"/><use href="#m465" x="5232"/><use href="#m496" x="5850"/></g>
<g transform="translate(331.75,431.4) scale(0.01751,-0.02074)"><title>ถนนชัยพฤกษ์</title><use href="#r454"/><use href="#r457" x="613"/><use href="#r457" x="1218"/><use href="#r436" x="1823"/><use href="#r719" x="2405"/><use href="#r466" x="2405"/><use href="#r462" x="3002"/><use href="#r468" x="3728"/><use href="#r427" x="4341"/><use href="#r475" x="4954"/><use href="#r732" x="5574"/></g>
<g transform="translate(668.64,434.3) scale(0.01776,-0.02000)"><title>ถนนแจ้งวัฒนะ</title><use href="#r454"/><use href="#r457" x="613"/><use href="#r457" x="1218"/><use href="#r486" x="1823"/><use href="#r434" x="2365"/><use href="#r724" x="2934"/><use href="#r433" x="2934"/><use href="#r473" x="3498"/><use href="#r719" x="3995"/><use href="#r450" x="3995"/><use href="#r457" x="4984"/><use href="#r482" x="5589"/></g>
<g transform="translate(345.36,464.7) scale(0.01469,-0.01704)"><title>รพ.วิภาราม</title><use href="#m467"/><use href="#m462" x="503"/><use href="#m542" x="1228"/><use href="#m473" x="1412"/><use href="#m738" x="1903"/><use href="#m464" x="1903"/><use href="#m483" x="2560"/><use href="#m467" x="3005"/><use href="#m483" x="3508"/><use href="#m465" x="3953"/></g>
<g transform="translate(353.23,486.4) scale(0.01358,-0.01704)"><title>ปากเกร็ด</title><use href="#m459"/><use href="#m483" x="633"/><use href="#m427" x="1078"/><use href="#m485" x="1700"/><use href="#m427" x="2008"/><use href="#m467" x="2630"/><use href="#m735" x="3133"/><use href="#m452" x="3133"/></g>
<g transform="translate(421.14,473.2) scale(0.01429,-0.01704)"><title>เมเจอร์ ฮอลลีวูด</title><use href="#m485"/><use href="#m465" x="308"/><use href="#m485" x="926"/><use href="#m434" x="1234"/><use href="#m480" x="1794"/><use href="#m467" x="2368"/><use href="#m732" x="2871"/><use href="#m481" x="3091"/><use href="#m480" x="3705"/><use href="#m470" x="4279"/><use href="#m470" x="4882"/><use href="#m740" x="5485"/><use href="#m473" x="5485"/><use href="#m755" x="5976"/><use href="#m452" x="5976"/></g>
<g transform="translate(439.84,495.2) scale(0.01439,-0.01704)"><title>แจ้งวัฒนะ</title><use href="#m486"/><use href="#m434" x="562"/><use href="#m724" x="1122"/><use href="#m433" x="1122"/><use href="#m473" x="1649"/><use href="#m719" x="2140"/><use href="#m450" x="2140"/><use href="#m457" x="3133"/><use href="#m482" x="3751"/></g>
<g transform="translate(681.13,469.7) scale(0.00954,-0.01389)"><title>เซ็นทรัล</title><use href="#m485"/><use href="#m437" x="308"/><use href="#m735" x="905"/><use href="#m457" x="905"/><use href="#m455" x="1523"/><use href="#m467" x="2141"/><use href="#m719" x="2644"/><use href="#m470" x="2644"/></g>
<g transform="translate(674.87,486) scale(0.01050,-0.01389)"><title>แจ้งวัฒนะ</title><use href="#m486"/><use href="#m434" x="562"/><use href="#m724" x="1122"/><use href="#m433" x="1122"/><use href="#m473" x="1649"/><use href="#m719" x="2140"/><use href="#m450" x="2140"/><use href="#m457" x="3133"/><use href="#m482" x="3751"/></g>
<g transform="translate(890.01,466.2) scale(0.01378,-0.01704)"><title>ศูนย์ราชการ</title><use href="#m474"/><use href="#m755" x="625"/><use href="#m457" x="654"/><use href="#m466" x="1272"/><use href="#m732" x="1879"/><use href="#m467" x="1879"/><use href="#m483" x="2382"/><use href="#m436" x="2827"/><use href="#m427" x="3424"/><use href="#m483" x="4046"/><use href="#m467" x="4491"/></g>
<g transform="translate(895.14,488.5) scale(0.01427,-0.01704)"><title>แจ้งวัฒนะ</title><use href="#m486"/><use href="#m434" x="562"/><use href="#m724" x="1122"/><use href="#m433" x="1122"/><use href="#m473" x="1649"/><use href="#m719" x="2140"/><use href="#m450" x="2140"/><use href="#m457" x="3133"/><use href="#m482" x="3751"/></g>
<g transform="translate(389.49,538) scale(0.01383,-0.01704)"><title>รพ.กรมชลประทาน</title><use href="#m467"/><use href="#m462" x="503"/><use href="#m542" x="1228"/><use href="#m427" x="1412"/><use href="#m467" x="2034"/><use href="#m465" x="2537"/><use href="#m436" x="3155"/><use href="#m470" x="3752"/><use href="#m459" x="4355"/><use href="#m467" x="4988"/><use href="#m482" x="5491"/><use href="#m455" x="5814"/><use href="#m483" x="6432"/><use href="#m457" x="6877"/></g>
<g transform="translate(540.72,538) scale(0.01327,-0.01704)"><title>วัดชลประทานรังสฤษฎ์</title><use href="#m473"/><use href="#m719" x="491"/><use href="#m452" x="491"/><use href="#m436" x="1144"/><use href="#m470" x="1741"/><use href="#m459" x="2344"/><use href="#m467" x="2977"/><use href="#m482" x="3480"/><use href="#m455" x="3803"/><use href="#m483" x="4421"/><use href="#m457" x="4866"/><use href="#m467" x="5484"/><use href="#m719" x="5987"/><use href="#m433" x="5987"/><use href="#m476" x="6514"/><use href="#m468" x="7136"/><use href="#m475" x="7758"/><use href="#m443" x="8398"/><use href="#m732" x="9056"/></g>
<g transform="translate(356.63,578.8) scale(0.01418,-0.01704)"><title>สำนักงาน ป.ป.ช.</title><use href="#m476"/><use href="#m746" x="603"/><use href="#m483" x="622"/><use href="#m457" x="1067"/><use href="#m719" x="1685"/><use href="#m427" x="1685"/><use href="#m433" x="2307"/><use href="#m483" x="2834"/><use href="#m457" x="3279"/><use href="#m459" x="4117"/><use href="#m542" x="4750"/><use href="#m459" x="4934"/><use href="#m542" x="5567"/><use href="#m436" x="5751"/><use href="#m542" x="6348"/></g>
<g transform="translate(350.70,614.1) scale(0.01358,-0.01704)"><title>ถนนสนามบินน้ำ</title><use href="#m454"/><use href="#m457" x="622"/><use href="#m457" x="1240"/><use href="#m476" x="1858"/><use href="#m457" x="2480"/><use href="#m483" x="3098"/><use href="#m465" x="3543"/><use href="#m458" x="4161"/><use href="#m738" x="4794"/><use href="#m457" x="4794"/><use href="#m457" x="5412"/><use href="#m746" x="6030"/><use href="#m725" x="6029" y="51"/><use href="#m483" x="6030"/></g>
<g transform="translate(195.48,623.7) scale(0.01406,-0.01704)"><title>กระทรวงพาณิชย์</title><use href="#m427"/><use href="#m467" x="622"/><use href="#m482" x="1125"/><use href="#m455" x="1448"/><use href="#m467" x="2066"/><use href="#m473" x="2569"/><use href="#m433" x="3060"/><use href="#m462" x="3587"/><use href="#m483" x="4312"/><use href="#m451" x="4757"/><use href="#m738" x="5723"/><use href="#m436" x="5723"/><use href="#m466" x="6320"/><use href="#m732" x="6927"/></g>
<g transform="translate(345.83,677.8) scale(0.01791,-0.01981)"><title>ถนนรัตนาธิเบศร์</title><use href="#r454"/><use href="#r457" x="613"/><use href="#r457" x="1218"/><use href="#r467" x="1823"/><use href="#r719" x="2327"/><use href="#r453" x="2327"/><use href="#r457" x="2973"/><use href="#r483" x="3578"/><use href="#r456" x="4018"/><use href="#r738" x="4544"/><use href="#r485" x="4544"/><use href="#r458" x="4851"/><use href="#r474" x="5472"/><use href="#r467" x="6108"/><use href="#r732" x="6612"/></g>
<g transform="translate(27.80,681.3) scale(0.01360,-0.01574)"><title>ถนนรัตนาธิเบศร์</title><use href="#m454"/><use href="#m457" x="622"/><use href="#m457" x="1240"/><use href="#m467" x="1858"/><use href="#m719" x="2361"/><use href="#m453" x="2361"/><use href="#m457" x="3020"/><use href="#m483" x="3638"/><use href="#m456" x="4083"/><use href="#m738" x="4621"/><use href="#m485" x="4621"/><use href="#m458" x="4929"/><use href="#m474" x="5562"/><use href="#m467" x="6216"/><use href="#m732" x="6719"/></g>
<g transform="translate(16.95,659.7) scale(0.01384,-0.01704)"><title>ไปราชพฤกษ์</title><use href="#m489"/><use href="#m459" x="308"/><use href="#m467" x="941"/><use href="#m483" x="1444"/><use href="#m436" x="1889"/><use href="#m462" x="2486"/><use href="#m468" x="3211"/><use href="#m427" x="3833"/><use href="#m475" x="4455"/><use href="#m732" x="5088"/></g>
<g transform="translate(125.45,674) scale(0.01387,-0.01667)"><title>สะพานพระนั่งเกล้า</title><use href="#m476"/><use href="#m482" x="622"/><use href="#m462" x="945"/><use href="#m483" x="1670"/><use href="#m457" x="2115"/><use href="#m462" x="2733"/><use href="#m467" x="3458"/><use href="#m482" x="3961"/><use href="#m457" x="4284"/><use href="#m719" x="4902"/><use href="#m722" x="4902"/><use href="#m433" x="4902"/><use href="#m485" x="5429"/><use href="#m427" x="5737"/><use href="#m470" x="6359"/><use href="#m724" x="6962"/><use href="#m483" x="6962"/></g>
<g transform="translate(710.03,584.5) scale(0.01789,-0.02000)"><title>ถนนสามัคคี</title><use href="#r454"/><use href="#r457" x="613"/><use href="#r457" x="1218"/><use href="#r476" x="1823"/><use href="#r483" x="2432"/><use href="#r465" x="2872"/><use href="#r719" x="3477"/><use href="#r430" x="3477"/><use href="#r430" x="4092"/><use href="#r740" x="4707"/></g>
<g transform="translate(622.72,685.5) scale(0.01808,-0.01963)"><title>ถนนงามวงศ์วาน</title><use href="#r454"/><use href="#r457" x="613"/><use href="#r457" x="1218"/><use href="#r433" x="1823"/><use href="#r483" x="2387"/><use href="#r465" x="2827"/><use href="#r473" x="3432"/><use href="#r433" x="3929"/><use href="#r474" x="4493"/><use href="#r732" x="5107"/><use href="#r473" x="5129"/><use href="#r483" x="5626"/><use href="#r457" x="6066"/></g>
<g transform="translate(861.88,683.7) scale(0.01411,-0.01519)"><title>ถนนงามวงศ์วาน</title><use href="#m454"/><use href="#m457" x="622"/><use href="#m457" x="1240"/><use href="#m433" x="1858"/><use href="#m483" x="2385"/><use href="#m465" x="2830"/><use href="#m473" x="3448"/><use href="#m433" x="3939"/><use href="#m474" x="4466"/><use href="#m732" x="5096"/><use href="#m473" x="5120"/><use href="#m483" x="5611"/><use href="#m457" x="6056"/></g>
<g transform="translate(986.53,666.3) scale(0.01267,-0.01704)"><title>ไปแยกเกษตร</title><use href="#m489"/><use href="#m459" x="308"/><use href="#m486" x="941"/><use href="#m466" x="1503"/><use href="#m427" x="2110"/><use href="#m485" x="2732"/><use href="#m427" x="3040"/><use href="#m475" x="3662"/><use href="#m453" x="4302"/><use href="#m467" x="4961"/></g>
<g transform="translate(240.95,732.8) scale(0.01374,-0.01704)"><title>ไปท่าน้ำนนท์</title><use href="#m489"/><use href="#m459" x="308"/><use href="#m455" x="941"/><use href="#m721" x="1559"/><use href="#m483" x="1559"/><use href="#m457" x="2004"/><use href="#m746" x="2622"/><use href="#m725" x="2621" y="51"/><use href="#m483" x="2622"/><use href="#m457" x="3067"/><use href="#m457" x="3685"/><use href="#m455" x="4303"/><use href="#m732" x="4921"/></g>
<g transform="translate(315.85,732.8) scale(0.01389,-0.01704)"><title>ไปท่าน้ำนนท์</title><use href="#m489"/><use href="#m459" x="308"/><use href="#m455" x="941"/><use href="#m721" x="1559"/><use href="#m483" x="1559"/><use href="#m457" x="2004"/><use href="#m746" x="2622"/><use href="#m725" x="2621" y="51"/><use href="#m483" x="2622"/><use href="#m457" x="3067"/><use href="#m457" x="3685"/><use href="#m455" x="4303"/><use href="#m732" x="4921"/></g>
<g transform="translate(454.84,732.8) scale(0.01346,-0.01704)"><title>ไปสะพานพระราม5/ราชพฤกษ์</title><use href="#m489"/><use href="#m459" x="308"/><use href="#m476" x="941"/><use href="#m482" x="1563"/><use href="#m462" x="1886"/><use href="#m483" x="2611"/><use href="#m457" x="3056"/><use href="#m462" x="3674"/><use href="#m467" x="4399"/><use href="#m482" x="4902"/><use href="#m467" x="5225"/><use href="#m483" x="5728"/><use href="#m465" x="6173"/><use href="#m497" x="6791"/><use href="#m555" x="7309"/><use href="#m467" x="7755"/><use href="#m483" x="8258"/><use href="#m436" x="8703"/><use href="#m462" x="9300"/><use href="#m468" x="10025"/><use href="#m427" x="10647"/><use href="#m475" x="11269"/><use href="#m732" x="11902"/></g>
<g transform="translate(803.95,730.3) scale(0.01370,-0.01704)"><title>ไปจตุจักร</title><use href="#m489"/><use href="#m459" x="308"/><use href="#m434" x="941"/><use href="#m453" x="1501"/><use href="#m753" x="2160"/><use href="#m434" x="2160"/><use href="#m719" x="2720"/><use href="#m427" x="2720"/><use href="#m467" x="3342"/></g>
<g transform="translate(872.65,730.3) scale(0.01377,-0.01704)"><title>ไปวงศ์สว่าง</title><use href="#m489"/><use href="#m459" x="308"/><use href="#m473" x="941"/><use href="#m433" x="1432"/><use href="#m474" x="1959"/><use href="#m732" x="2589"/><use href="#m476" x="2613"/><use href="#m473" x="3235"/><use href="#m721" x="3726"/><use href="#m483" x="3726"/><use href="#m433" x="4171"/></g>
<g transform="translate(969.96,730.3) scale(0.01430,-0.01704)"><title>ไปลาดพร้าว</title><use href="#m489"/><use href="#m459" x="308"/><use href="#m470" x="941"/><use href="#m483" x="1544"/><use href="#m452" x="1989"/><use href="#m462" x="2642"/><use href="#m467" x="3367"/><use href="#m724" x="3870"/><use href="#m483" x="3870"/><use href="#m473" x="4315"/></g>
<g transform="translate(920.16,557.4) scale(0.05081,-0.05444)" fill="#0000ff"><title>ภัสสร11</title><use href="#r464"/><use href="#r719" x="647"/><use href="#r476" x="647"/><use href="#r476" x="1256"/><use href="#r467" x="1865"/><use href="#r493" x="2369"/><use href="#r493" x="2688"/></g>
<g transform="translate(186.20,559.60) rotate(-90) scale(0.01492,-0.01852)"><title>แม่น้ำเจ้าพระยา</title><use href="#m486"/><use href="#m465" x="562"/><use href="#m721" x="1180"/><use href="#m457" x="1180"/><use href="#m746" x="1798"/><use href="#m725" x="1797" y="51"/><use href="#m483" x="1798"/><use href="#m485" x="2243"/><use href="#m434" x="2551"/><use href="#m724" x="3111"/><use href="#m483" x="3111"/><use href="#m462" x="3556"/><use href="#m467" x="4281"/><use href="#m482" x="4784"/><use href="#m466" x="5107"/><use href="#m483" x="5714"/></g>
<g transform="translate(531.70,407.51) rotate(-90) scale(0.01369,-0.01667)"><title>ถนนติวานนท์-ปทุมธานี</title><use href="#m454"/><use href="#m457" x="622"/><use href="#m457" x="1240"/><use href="#m453" x="1858"/><use href="#m738" x="2517"/><use href="#m473" x="2517"/><use href="#m483" x="3008"/><use href="#m457" x="3453"/><use href="#m457" x="4071"/><use href="#m455" x="4689"/><use href="#m732" x="5307"/><use href="#m567" x="5307"/><use href="#m459" x="5767"/><use href="#m455" x="6400"/><use href="#m753" x="7018"/><use href="#m465" x="7018"/><use href="#m456" x="7636"/><use href="#m483" x="8174"/><use href="#m457" x="8619"/><use href="#m740" x="9237"/></g>
<g transform="translate(531.90,633.51) rotate(-90) scale(0.01372,-0.01667)"><title>ถนนติวานนท์-ปทุมธานี</title><use href="#m454"/><use href="#m457" x="622"/><use href="#m457" x="1240"/><use href="#m453" x="1858"/><use href="#m738" x="2517"/><use href="#m473" x="2517"/><use href="#m483" x="3008"/><use href="#m457" x="3453"/><use href="#m457" x="4071"/><use href="#m455" x="4689"/><use href="#m732" x="5307"/><use href="#m567" x="5307"/><use href="#m459" x="5767"/><use href="#m455" x="6400"/><use href="#m753" x="7018"/><use href="#m465" x="7018"/><use href="#m456" x="7636"/><use href="#m483" x="8174"/><use href="#m457" x="8619"/><use href="#m740" x="9237"/></g>
<g transform="translate(653.00,523.18) rotate(-90) scale(0.01310,-0.01704)"><title>ถนนเลี่ยงเมืองปากเกร็ด</title><use href="#m454"/><use href="#m457" x="622"/><use href="#m457" x="1240"/><use href="#m485" x="1858"/><use href="#m470" x="2166"/><use href="#m740" x="2769"/><use href="#m722" x="2769" y="10"/><use href="#m466" x="2769"/><use href="#m433" x="3376"/><use href="#m485" x="3903"/><use href="#m465" x="4211"/><use href="#m744" x="4829"/><use href="#m480" x="4829"/><use href="#m433" x="5403"/><use href="#m459" x="5930"/><use href="#m483" x="6563"/><use href="#m427" x="7008"/><use href="#m485" x="7630"/><use href="#m427" x="7938"/><use href="#m467" x="8560"/><use href="#m735" x="9063"/><use href="#m452" x="9063"/></g>
<g transform="translate(834.50,570.13) rotate(-90) scale(0.01797,-0.02296)"><title>ทางด่วนขั้นที่ 2 บางโคล่-แจ้งวัฒนะ</title><use href="#r455"/><use href="#r483" x="605"/><use href="#r433" x="1045"/><use href="#r452" x="1609"/><use href="#r721" x="2252"/><use href="#r473" x="2252"/><use href="#r457" x="2749"/><use href="#r428" x="3354"/><use href="#r719" x="3935"/><use href="#r725" x="3955"/><use href="#r457" x="3935"/><use href="#r455" x="4540"/><use href="#r740" x="5145"/><use href="#r722" x="5145" y="1"/><use href="#r494" x="5375"/><use href="#r458" x="6114"/><use href="#r483" x="6735"/><use href="#r433" x="7175"/><use href="#r487" x="7739"/><use href="#r430" x="8054"/><use href="#r470" x="8669"/><use href="#r721" x="9263"/><use href="#r567" x="9263"/><use href="#r486" x="9731"/><use href="#r434" x="10273"/><use href="#r724" x="10842"/><use href="#r433" x="10842"/><use href="#r473" x="11406"/><use href="#r719" x="11903"/><use href="#r450" x="11903"/><use href="#r457" x="12892"/><use href="#r482" x="13497"/></g>
<g transform="translate(904.30,400.03) rotate(-90) scale(0.01216,-0.01667)"><title>เลียบคลองประปา</title><use href="#m485"/><use href="#m470" x="308"/><use href="#m740" x="911"/><use href="#m466" x="911"/><use href="#m458" x="1518"/><use href="#m430" x="2151"/><use href="#m470" x="2779"/><use href="#m480" x="3382"/><use href="#m433" x="3956"/><use href="#m459" x="4483"/><use href="#m467" x="5116"/><use href="#m482" x="5619"/><use href="#m459" x="5942"/><use href="#m483" x="6575"/></g>
<g transform="translate(908.40,622.42) rotate(-90) scale(0.01664,-0.02037)"><title>ถนนประชาชื่น</title><use href="#m454"/><use href="#m457" x="622"/><use href="#m457" x="1240"/><use href="#m459" x="1858"/><use href="#m467" x="2491"/><use href="#m482" x="2994"/><use href="#m436" x="3317"/><use href="#m483" x="3914"/><use href="#m436" x="4359"/><use href="#m744" x="4956"/><use href="#m722" x="4956" y="10"/><use href="#m457" x="4956"/></g>
<g transform="translate(1007.25,270.80) rotate(-90) scale(0.01620,-0.02130)"><title>ถนนวิภาวดีรังสิต</title><use href="#m454"/><use href="#m457" x="622"/><use href="#m457" x="1240"/><use href="#m473" x="1858"/><use href="#m738" x="2349"/><use href="#m464" x="2349"/><use href="#m483" x="3006"/><use href="#m473" x="3451"/><use href="#m452" x="3942"/><use href="#m740" x="4595"/><use href="#m467" x="4595"/><use href="#m719" x="5098"/><use href="#m433" x="5098"/><use href="#m476" x="5625"/><use href="#m738" x="6228"/><use href="#m453" x="6247"/></g>
<g transform="translate(1007.25,611.41) rotate(-90) scale(0.01657,-0.02130)"><title>ถนนวิภาวดีรังสิต</title><use href="#m454"/><use href="#m457" x="622"/><use href="#m457" x="1240"/><use href="#m473" x="1858"/><use href="#m738" x="2349"/><use href="#m464" x="2349"/><use href="#m483" x="3006"/><use href="#m473" x="3451"/><use href="#m452" x="3942"/><use href="#m740" x="4595"/><use href="#m467" x="4595"/><use href="#m719" x="5098"/><use href="#m433" x="5098"/><use href="#m476" x="5625"/><use href="#m738" x="6228"/><use href="#m453" x="6247"/></g></g>
</svg>
</body></html>
